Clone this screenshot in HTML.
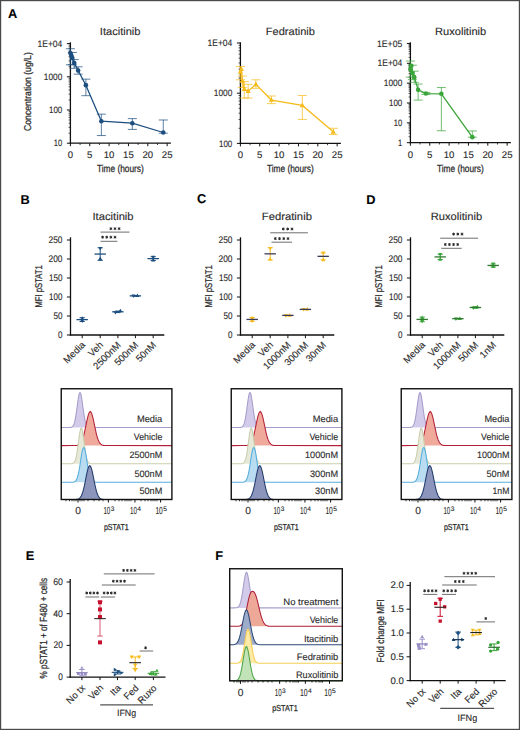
<!DOCTYPE html><html><head><meta charset="utf-8"><style>html,body{margin:0;padding:0;background:#fff;}svg{display:block;}</style></head><body><svg width="520" height="730" viewBox="0 0 520 730" font-family='"Liberation Sans", sans-serif' fill="#2b2b2b" text-rendering="geometricPrecision"><style>text{stroke:#2b2b2b;stroke-width:0.12px;}.c{stroke-width:0.25px;}</style>
<rect x="0" y="0" width="520" height="730" fill="#fff"/>
<text x="8.10" y="18.30" font-size="12.8" fill="#000" font-weight="bold">A</text>
<text x="20.40" y="203.60" font-size="12.8" fill="#000" font-weight="bold">B</text>
<text x="196.90" y="203.40" font-size="12.8" fill="#000" font-weight="bold">C</text>
<text x="366.30" y="203.60" font-size="12.8" fill="#000" font-weight="bold">D</text>
<text x="25.70" y="560.30" font-size="12.8" fill="#000" font-weight="bold">E</text>
<text x="215.20" y="559.70" font-size="12.8" fill="#000" font-weight="bold">F</text>
<line x1="70.40" y1="42.30" x2="70.40" y2="143.80" stroke="#111" stroke-width="1.3"/>
<line x1="69.80" y1="143.20" x2="170.90" y2="143.20" stroke="#111" stroke-width="1.3"/>
<line x1="70.40" y1="143.20" x2="70.40" y2="146.20" stroke="#111" stroke-width="1"/>
<text x="70.40" y="157.70" font-size="9.6" text-anchor="middle">0</text>
<line x1="89.75" y1="143.20" x2="89.75" y2="146.20" stroke="#111" stroke-width="1"/>
<text x="89.75" y="157.70" font-size="9.6" text-anchor="middle">5</text>
<line x1="109.10" y1="143.20" x2="109.10" y2="146.20" stroke="#111" stroke-width="1"/>
<text x="109.10" y="157.70" font-size="9.6" text-anchor="middle">10</text>
<line x1="128.45" y1="143.20" x2="128.45" y2="146.20" stroke="#111" stroke-width="1"/>
<text x="128.45" y="157.70" font-size="9.6" text-anchor="middle">15</text>
<line x1="147.80" y1="143.20" x2="147.80" y2="146.20" stroke="#111" stroke-width="1"/>
<text x="147.80" y="157.70" font-size="9.6" text-anchor="middle">20</text>
<line x1="167.15" y1="143.20" x2="167.15" y2="146.20" stroke="#111" stroke-width="1"/>
<text x="167.15" y="157.70" font-size="9.6" text-anchor="middle">25</text>
<line x1="80.08" y1="143.20" x2="80.08" y2="145.00" stroke="#111" stroke-width="0.8"/>
<line x1="99.43" y1="143.20" x2="99.43" y2="145.00" stroke="#111" stroke-width="0.8"/>
<line x1="118.78" y1="143.20" x2="118.78" y2="145.00" stroke="#111" stroke-width="0.8"/>
<line x1="138.12" y1="143.20" x2="138.12" y2="145.00" stroke="#111" stroke-width="0.8"/>
<line x1="157.48" y1="143.20" x2="157.48" y2="145.00" stroke="#111" stroke-width="0.8"/>
<line x1="66.90" y1="143.20" x2="70.40" y2="143.20" stroke="#111" stroke-width="1"/>
<line x1="68.60" y1="133.21" x2="70.40" y2="133.21" stroke="#111" stroke-width="0.7"/>
<line x1="68.60" y1="127.36" x2="70.40" y2="127.36" stroke="#111" stroke-width="0.7"/>
<line x1="68.60" y1="123.21" x2="70.40" y2="123.21" stroke="#111" stroke-width="0.7"/>
<line x1="68.60" y1="119.99" x2="70.40" y2="119.99" stroke="#111" stroke-width="0.7"/>
<line x1="68.60" y1="117.37" x2="70.40" y2="117.37" stroke="#111" stroke-width="0.7"/>
<line x1="68.60" y1="115.14" x2="70.40" y2="115.14" stroke="#111" stroke-width="0.7"/>
<line x1="68.60" y1="113.22" x2="70.40" y2="113.22" stroke="#111" stroke-width="0.7"/>
<line x1="68.60" y1="111.52" x2="70.40" y2="111.52" stroke="#111" stroke-width="0.7"/>
<line x1="66.90" y1="110.00" x2="70.40" y2="110.00" stroke="#111" stroke-width="1"/>
<line x1="68.60" y1="100.01" x2="70.40" y2="100.01" stroke="#111" stroke-width="0.7"/>
<line x1="68.60" y1="94.16" x2="70.40" y2="94.16" stroke="#111" stroke-width="0.7"/>
<line x1="68.60" y1="90.01" x2="70.40" y2="90.01" stroke="#111" stroke-width="0.7"/>
<line x1="68.60" y1="86.79" x2="70.40" y2="86.79" stroke="#111" stroke-width="0.7"/>
<line x1="68.60" y1="84.17" x2="70.40" y2="84.17" stroke="#111" stroke-width="0.7"/>
<line x1="68.60" y1="81.94" x2="70.40" y2="81.94" stroke="#111" stroke-width="0.7"/>
<line x1="68.60" y1="80.02" x2="70.40" y2="80.02" stroke="#111" stroke-width="0.7"/>
<line x1="68.60" y1="78.32" x2="70.40" y2="78.32" stroke="#111" stroke-width="0.7"/>
<line x1="66.90" y1="76.80" x2="70.40" y2="76.80" stroke="#111" stroke-width="1"/>
<line x1="68.60" y1="66.81" x2="70.40" y2="66.81" stroke="#111" stroke-width="0.7"/>
<line x1="68.60" y1="60.96" x2="70.40" y2="60.96" stroke="#111" stroke-width="0.7"/>
<line x1="68.60" y1="56.81" x2="70.40" y2="56.81" stroke="#111" stroke-width="0.7"/>
<line x1="68.60" y1="53.59" x2="70.40" y2="53.59" stroke="#111" stroke-width="0.7"/>
<line x1="68.60" y1="50.97" x2="70.40" y2="50.97" stroke="#111" stroke-width="0.7"/>
<line x1="68.60" y1="48.74" x2="70.40" y2="48.74" stroke="#111" stroke-width="0.7"/>
<line x1="68.60" y1="46.82" x2="70.40" y2="46.82" stroke="#111" stroke-width="0.7"/>
<line x1="68.60" y1="45.12" x2="70.40" y2="45.12" stroke="#111" stroke-width="0.7"/>
<line x1="66.90" y1="43.60" x2="70.40" y2="43.60" stroke="#111" stroke-width="1"/>
<text x="37.50" y="46.70" font-size="9.4" textLength="24.80" lengthAdjust="spacingAndGlyphs">1E+04</text>
<text x="43.80" y="79.90" font-size="9.4" textLength="18.50" lengthAdjust="spacingAndGlyphs">1000</text>
<text x="49.00" y="113.10" font-size="9.4" textLength="13.30" lengthAdjust="spacingAndGlyphs">100</text>
<text x="53.80" y="146.30" font-size="9.4" textLength="8.50" lengthAdjust="spacingAndGlyphs">10</text>
<text x="99.80" y="34.50" font-size="10.6" textLength="40.70" lengthAdjust="spacingAndGlyphs">Itacitinib</text>
<text x="96.90" y="172.20" font-size="10.2" class="c" textLength="46.90" lengthAdjust="spacingAndGlyphs">Time (hours)</text>
<path d="M65.90,48.74h9M70.40,48.74V64.79M65.90,64.79h9" stroke="#1c4f7f" stroke-width="0.9" fill="none" opacity="0.8"/>
<path d="M67.84,52.48h9M72.34,52.48V64.79M67.84,64.79h9" stroke="#1c4f7f" stroke-width="0.9" fill="none" opacity="0.8"/>
<path d="M69.77,59.59h9M74.27,59.59V68.32M69.77,68.32h9" stroke="#1c4f7f" stroke-width="0.9" fill="none" opacity="0.8"/>
<path d="M73.64,66.81h9M78.14,66.81V74.17M73.64,74.17h9" stroke="#1c4f7f" stroke-width="0.9" fill="none" opacity="0.8"/>
<path d="M81.38,79.14h9M85.88,79.14V95.68M81.38,95.68h9" stroke="#1c4f7f" stroke-width="0.9" fill="none" opacity="0.8"/>
<path d="M96.86,114.15h9M101.36,114.15V135.55M96.86,135.55h9" stroke="#1c4f7f" stroke-width="0.9" fill="none" opacity="0.8"/>
<path d="M127.82,118.62h9M132.32,118.62V129.42M127.82,129.42h9" stroke="#1c4f7f" stroke-width="0.9" fill="none" opacity="0.8"/>
<path d="M158.78,119.99h9M163.28,119.99V133.21M158.78,133.21h9" stroke="#1c4f7f" stroke-width="0.9" fill="none" opacity="0.8"/>
<polyline points="70.40,53.03 71.37,55.44 72.34,57.94 74.27,63.02 78.14,70.48 85.88,85.16 101.36,121.20 132.32,123.21 163.28,132.50" fill="none" stroke="#1c4f7f" stroke-width="1.3"/>
<circle cx="70.40" cy="53.03" r="2.3" fill="#1c4f7f"/>
<circle cx="71.37" cy="55.44" r="2.3" fill="#1c4f7f"/>
<circle cx="72.34" cy="57.94" r="2.3" fill="#1c4f7f"/>
<circle cx="74.27" cy="63.02" r="2.3" fill="#1c4f7f"/>
<circle cx="78.14" cy="70.48" r="2.3" fill="#1c4f7f"/>
<circle cx="85.88" cy="85.16" r="2.3" fill="#1c4f7f"/>
<circle cx="101.36" cy="121.20" r="2.3" fill="#1c4f7f"/>
<circle cx="132.32" cy="123.21" r="2.3" fill="#1c4f7f"/>
<circle cx="163.28" cy="132.50" r="2.3" fill="#1c4f7f"/>
<text x="30.60" y="91.60" font-size="9.9" class="c" text-anchor="middle" textLength="78.70" lengthAdjust="spacingAndGlyphs" transform="rotate(-90 30.60 91.60)">Concentration (ug/L)</text>
<line x1="240.40" y1="42.30" x2="240.40" y2="144.00" stroke="#111" stroke-width="1.3"/>
<line x1="239.80" y1="143.40" x2="340.90" y2="143.40" stroke="#111" stroke-width="1.3"/>
<line x1="240.40" y1="143.40" x2="240.40" y2="146.40" stroke="#111" stroke-width="1"/>
<text x="240.40" y="157.70" font-size="9.6" text-anchor="middle">0</text>
<line x1="259.75" y1="143.40" x2="259.75" y2="146.40" stroke="#111" stroke-width="1"/>
<text x="259.75" y="157.70" font-size="9.6" text-anchor="middle">5</text>
<line x1="279.10" y1="143.40" x2="279.10" y2="146.40" stroke="#111" stroke-width="1"/>
<text x="279.10" y="157.70" font-size="9.6" text-anchor="middle">10</text>
<line x1="298.45" y1="143.40" x2="298.45" y2="146.40" stroke="#111" stroke-width="1"/>
<text x="298.45" y="157.70" font-size="9.6" text-anchor="middle">15</text>
<line x1="317.80" y1="143.40" x2="317.80" y2="146.40" stroke="#111" stroke-width="1"/>
<text x="317.80" y="157.70" font-size="9.6" text-anchor="middle">20</text>
<line x1="337.15" y1="143.40" x2="337.15" y2="146.40" stroke="#111" stroke-width="1"/>
<text x="337.15" y="157.70" font-size="9.6" text-anchor="middle">25</text>
<line x1="250.08" y1="143.40" x2="250.08" y2="145.20" stroke="#111" stroke-width="0.8"/>
<line x1="269.43" y1="143.40" x2="269.43" y2="145.20" stroke="#111" stroke-width="0.8"/>
<line x1="288.77" y1="143.40" x2="288.77" y2="145.20" stroke="#111" stroke-width="0.8"/>
<line x1="308.12" y1="143.40" x2="308.12" y2="145.20" stroke="#111" stroke-width="0.8"/>
<line x1="327.48" y1="143.40" x2="327.48" y2="145.20" stroke="#111" stroke-width="0.8"/>
<line x1="236.90" y1="143.40" x2="240.40" y2="143.40" stroke="#111" stroke-width="1"/>
<line x1="238.60" y1="128.29" x2="240.40" y2="128.29" stroke="#111" stroke-width="0.7"/>
<line x1="238.60" y1="119.45" x2="240.40" y2="119.45" stroke="#111" stroke-width="0.7"/>
<line x1="238.60" y1="113.18" x2="240.40" y2="113.18" stroke="#111" stroke-width="0.7"/>
<line x1="238.60" y1="108.31" x2="240.40" y2="108.31" stroke="#111" stroke-width="0.7"/>
<line x1="238.60" y1="104.34" x2="240.40" y2="104.34" stroke="#111" stroke-width="0.7"/>
<line x1="238.60" y1="100.98" x2="240.40" y2="100.98" stroke="#111" stroke-width="0.7"/>
<line x1="238.60" y1="98.06" x2="240.40" y2="98.06" stroke="#111" stroke-width="0.7"/>
<line x1="238.60" y1="95.50" x2="240.40" y2="95.50" stroke="#111" stroke-width="0.7"/>
<line x1="236.90" y1="93.20" x2="240.40" y2="93.20" stroke="#111" stroke-width="1"/>
<line x1="238.60" y1="78.09" x2="240.40" y2="78.09" stroke="#111" stroke-width="0.7"/>
<line x1="238.60" y1="69.25" x2="240.40" y2="69.25" stroke="#111" stroke-width="0.7"/>
<line x1="238.60" y1="62.98" x2="240.40" y2="62.98" stroke="#111" stroke-width="0.7"/>
<line x1="238.60" y1="58.11" x2="240.40" y2="58.11" stroke="#111" stroke-width="0.7"/>
<line x1="238.60" y1="54.14" x2="240.40" y2="54.14" stroke="#111" stroke-width="0.7"/>
<line x1="238.60" y1="50.78" x2="240.40" y2="50.78" stroke="#111" stroke-width="0.7"/>
<line x1="238.60" y1="47.86" x2="240.40" y2="47.86" stroke="#111" stroke-width="0.7"/>
<line x1="238.60" y1="45.30" x2="240.40" y2="45.30" stroke="#111" stroke-width="0.7"/>
<line x1="236.90" y1="43.00" x2="240.40" y2="43.00" stroke="#111" stroke-width="1"/>
<text x="207.50" y="46.10" font-size="9.4" textLength="24.80" lengthAdjust="spacingAndGlyphs">1E+04</text>
<text x="213.80" y="96.30" font-size="9.4" textLength="18.50" lengthAdjust="spacingAndGlyphs">1000</text>
<text x="219.00" y="146.50" font-size="9.4" textLength="13.30" lengthAdjust="spacingAndGlyphs">100</text>
<text x="265.80" y="34.50" font-size="10.6" textLength="49.10" lengthAdjust="spacingAndGlyphs">Fedratinib</text>
<text x="266.90" y="172.20" font-size="10.2" class="c" textLength="46.90" lengthAdjust="spacingAndGlyphs">Time (hours)</text>
<path d="M235.90,66.52h9M240.40,66.52V79.79M235.90,79.79h9" stroke="#f5bb1c" stroke-width="0.9" fill="none" opacity="0.8"/>
<path d="M237.84,76.01h9M242.34,76.01V87.48M237.84,87.48h9" stroke="#f5bb1c" stroke-width="0.9" fill="none" opacity="0.8"/>
<path d="M239.77,81.63h9M244.27,81.63V98.06M239.77,98.06h9" stroke="#f5bb1c" stroke-width="0.9" fill="none" opacity="0.8"/>
<path d="M243.64,84.36h9M248.14,84.36V98.06M243.64,98.06h9" stroke="#f5bb1c" stroke-width="0.9" fill="none" opacity="0.8"/>
<path d="M251.38,79.79h9M255.88,79.79V88.34M251.38,88.34h9" stroke="#f5bb1c" stroke-width="0.9" fill="none" opacity="0.8"/>
<path d="M266.86,95.99h9M271.36,95.99V103.62M266.86,103.62h9" stroke="#f5bb1c" stroke-width="0.9" fill="none" opacity="0.8"/>
<path d="M297.82,95.50h9M302.32,95.50V119.45M297.82,119.45h9" stroke="#f5bb1c" stroke-width="0.9" fill="none" opacity="0.8"/>
<path d="M328.78,128.29h9M333.28,128.29V134.56M328.78,134.56h9" stroke="#f5bb1c" stroke-width="0.9" fill="none" opacity="0.8"/>
<polyline points="240.40,71.95 241.37,69.25 242.34,81.00 244.27,89.23 248.14,91.12 255.88,84.36 271.36,100.06 302.32,105.46 333.28,131.83" fill="none" stroke="#f5bb1c" stroke-width="1.3"/>
<path d="M240.40,69.05L243.00,73.75L237.80,73.75Z" fill="#f5bb1c"/>
<path d="M241.37,66.35L243.97,71.05L238.77,71.05Z" fill="#f5bb1c"/>
<path d="M242.34,78.10L244.94,82.80L239.74,82.80Z" fill="#f5bb1c"/>
<path d="M244.27,86.33L246.87,91.03L241.67,91.03Z" fill="#f5bb1c"/>
<path d="M248.14,88.22L250.74,92.92L245.54,92.92Z" fill="#f5bb1c"/>
<path d="M255.88,81.46L258.48,86.16L253.28,86.16Z" fill="#f5bb1c"/>
<path d="M271.36,97.16L273.96,101.86L268.76,101.86Z" fill="#f5bb1c"/>
<path d="M302.32,102.56L304.92,107.26L299.72,107.26Z" fill="#f5bb1c"/>
<path d="M333.28,128.93L335.88,133.63L330.68,133.63Z" fill="#f5bb1c"/>
<line x1="410.40" y1="42.30" x2="410.40" y2="143.30" stroke="#111" stroke-width="1.3"/>
<line x1="409.80" y1="142.70" x2="510.90" y2="142.70" stroke="#111" stroke-width="1.3"/>
<line x1="410.40" y1="142.70" x2="410.40" y2="145.70" stroke="#111" stroke-width="1"/>
<text x="410.40" y="157.70" font-size="9.6" text-anchor="middle">0</text>
<line x1="429.75" y1="142.70" x2="429.75" y2="145.70" stroke="#111" stroke-width="1"/>
<text x="429.75" y="157.70" font-size="9.6" text-anchor="middle">5</text>
<line x1="449.10" y1="142.70" x2="449.10" y2="145.70" stroke="#111" stroke-width="1"/>
<text x="449.10" y="157.70" font-size="9.6" text-anchor="middle">10</text>
<line x1="468.45" y1="142.70" x2="468.45" y2="145.70" stroke="#111" stroke-width="1"/>
<text x="468.45" y="157.70" font-size="9.6" text-anchor="middle">15</text>
<line x1="487.80" y1="142.70" x2="487.80" y2="145.70" stroke="#111" stroke-width="1"/>
<text x="487.80" y="157.70" font-size="9.6" text-anchor="middle">20</text>
<line x1="507.15" y1="142.70" x2="507.15" y2="145.70" stroke="#111" stroke-width="1"/>
<text x="507.15" y="157.70" font-size="9.6" text-anchor="middle">25</text>
<line x1="420.07" y1="142.70" x2="420.07" y2="144.50" stroke="#111" stroke-width="0.8"/>
<line x1="439.42" y1="142.70" x2="439.42" y2="144.50" stroke="#111" stroke-width="0.8"/>
<line x1="458.77" y1="142.70" x2="458.77" y2="144.50" stroke="#111" stroke-width="0.8"/>
<line x1="478.12" y1="142.70" x2="478.12" y2="144.50" stroke="#111" stroke-width="0.8"/>
<line x1="497.47" y1="142.70" x2="497.47" y2="144.50" stroke="#111" stroke-width="0.8"/>
<line x1="406.90" y1="142.70" x2="410.40" y2="142.70" stroke="#111" stroke-width="1"/>
<line x1="408.60" y1="136.72" x2="410.40" y2="136.72" stroke="#111" stroke-width="0.7"/>
<line x1="408.60" y1="133.23" x2="410.40" y2="133.23" stroke="#111" stroke-width="0.7"/>
<line x1="408.60" y1="130.75" x2="410.40" y2="130.75" stroke="#111" stroke-width="0.7"/>
<line x1="408.60" y1="128.83" x2="410.40" y2="128.83" stroke="#111" stroke-width="0.7"/>
<line x1="408.60" y1="127.25" x2="410.40" y2="127.25" stroke="#111" stroke-width="0.7"/>
<line x1="408.60" y1="125.92" x2="410.40" y2="125.92" stroke="#111" stroke-width="0.7"/>
<line x1="408.60" y1="124.77" x2="410.40" y2="124.77" stroke="#111" stroke-width="0.7"/>
<line x1="408.60" y1="123.76" x2="410.40" y2="123.76" stroke="#111" stroke-width="0.7"/>
<line x1="406.90" y1="122.85" x2="410.40" y2="122.85" stroke="#111" stroke-width="1"/>
<line x1="408.60" y1="116.87" x2="410.40" y2="116.87" stroke="#111" stroke-width="0.7"/>
<line x1="408.60" y1="113.38" x2="410.40" y2="113.38" stroke="#111" stroke-width="0.7"/>
<line x1="408.60" y1="110.90" x2="410.40" y2="110.90" stroke="#111" stroke-width="0.7"/>
<line x1="408.60" y1="108.98" x2="410.40" y2="108.98" stroke="#111" stroke-width="0.7"/>
<line x1="408.60" y1="107.40" x2="410.40" y2="107.40" stroke="#111" stroke-width="0.7"/>
<line x1="408.60" y1="106.07" x2="410.40" y2="106.07" stroke="#111" stroke-width="0.7"/>
<line x1="408.60" y1="104.92" x2="410.40" y2="104.92" stroke="#111" stroke-width="0.7"/>
<line x1="408.60" y1="103.91" x2="410.40" y2="103.91" stroke="#111" stroke-width="0.7"/>
<line x1="406.90" y1="103.00" x2="410.40" y2="103.00" stroke="#111" stroke-width="1"/>
<line x1="408.60" y1="97.02" x2="410.40" y2="97.02" stroke="#111" stroke-width="0.7"/>
<line x1="408.60" y1="93.53" x2="410.40" y2="93.53" stroke="#111" stroke-width="0.7"/>
<line x1="408.60" y1="91.05" x2="410.40" y2="91.05" stroke="#111" stroke-width="0.7"/>
<line x1="408.60" y1="89.13" x2="410.40" y2="89.13" stroke="#111" stroke-width="0.7"/>
<line x1="408.60" y1="87.55" x2="410.40" y2="87.55" stroke="#111" stroke-width="0.7"/>
<line x1="408.60" y1="86.22" x2="410.40" y2="86.22" stroke="#111" stroke-width="0.7"/>
<line x1="408.60" y1="85.07" x2="410.40" y2="85.07" stroke="#111" stroke-width="0.7"/>
<line x1="408.60" y1="84.06" x2="410.40" y2="84.06" stroke="#111" stroke-width="0.7"/>
<line x1="406.90" y1="83.15" x2="410.40" y2="83.15" stroke="#111" stroke-width="1"/>
<line x1="408.60" y1="77.17" x2="410.40" y2="77.17" stroke="#111" stroke-width="0.7"/>
<line x1="408.60" y1="73.68" x2="410.40" y2="73.68" stroke="#111" stroke-width="0.7"/>
<line x1="408.60" y1="71.20" x2="410.40" y2="71.20" stroke="#111" stroke-width="0.7"/>
<line x1="408.60" y1="69.28" x2="410.40" y2="69.28" stroke="#111" stroke-width="0.7"/>
<line x1="408.60" y1="67.70" x2="410.40" y2="67.70" stroke="#111" stroke-width="0.7"/>
<line x1="408.60" y1="66.37" x2="410.40" y2="66.37" stroke="#111" stroke-width="0.7"/>
<line x1="408.60" y1="65.22" x2="410.40" y2="65.22" stroke="#111" stroke-width="0.7"/>
<line x1="408.60" y1="64.21" x2="410.40" y2="64.21" stroke="#111" stroke-width="0.7"/>
<line x1="406.90" y1="63.30" x2="410.40" y2="63.30" stroke="#111" stroke-width="1"/>
<line x1="408.60" y1="57.32" x2="410.40" y2="57.32" stroke="#111" stroke-width="0.7"/>
<line x1="408.60" y1="53.83" x2="410.40" y2="53.83" stroke="#111" stroke-width="0.7"/>
<line x1="408.60" y1="51.35" x2="410.40" y2="51.35" stroke="#111" stroke-width="0.7"/>
<line x1="408.60" y1="49.43" x2="410.40" y2="49.43" stroke="#111" stroke-width="0.7"/>
<line x1="408.60" y1="47.85" x2="410.40" y2="47.85" stroke="#111" stroke-width="0.7"/>
<line x1="408.60" y1="46.52" x2="410.40" y2="46.52" stroke="#111" stroke-width="0.7"/>
<line x1="408.60" y1="45.37" x2="410.40" y2="45.37" stroke="#111" stroke-width="0.7"/>
<line x1="408.60" y1="44.36" x2="410.40" y2="44.36" stroke="#111" stroke-width="0.7"/>
<line x1="406.90" y1="43.45" x2="410.40" y2="43.45" stroke="#111" stroke-width="1"/>
<text x="377.00" y="46.55" font-size="9.4" textLength="25.30" lengthAdjust="spacingAndGlyphs">1E+05</text>
<text x="377.50" y="66.40" font-size="9.4" textLength="24.80" lengthAdjust="spacingAndGlyphs">1E+04</text>
<text x="383.80" y="86.25" font-size="9.4" textLength="18.50" lengthAdjust="spacingAndGlyphs">1000</text>
<text x="389.00" y="106.10" font-size="9.4" textLength="13.30" lengthAdjust="spacingAndGlyphs">100</text>
<text x="393.80" y="125.95" font-size="9.4" textLength="8.50" lengthAdjust="spacingAndGlyphs">10</text>
<text x="398.10" y="145.80" font-size="9.4" textLength="4.20" lengthAdjust="spacingAndGlyphs">1</text>
<text x="435.10" y="34.50" font-size="10.6" textLength="51.10" lengthAdjust="spacingAndGlyphs">Ruxolitinib</text>
<text x="436.90" y="172.20" font-size="10.2" class="c" textLength="46.90" lengthAdjust="spacingAndGlyphs">Time (hours)</text>
<path d="M405.90,61.04h9M410.40,61.04V77.17M405.90,77.17h9" stroke="#3aa53a" stroke-width="0.9" fill="none" opacity="0.8"/>
<path d="M407.83,65.22h9M412.33,65.22V79.65M407.83,79.65h9" stroke="#3aa53a" stroke-width="0.9" fill="none" opacity="0.8"/>
<path d="M409.77,71.20h9M414.27,71.20V82.33M409.77,82.33h9" stroke="#3aa53a" stroke-width="0.9" fill="none" opacity="0.8"/>
<path d="M413.64,84.06h9M418.14,84.06V100.10M413.64,100.10h9" stroke="#3aa53a" stroke-width="0.9" fill="none" opacity="0.8"/>
<path d="M421.38,92.45h9M425.88,92.45V94.44M421.38,94.44h9" stroke="#3aa53a" stroke-width="0.9" fill="none" opacity="0.8"/>
<path d="M436.86,87.55h9M441.36,87.55V130.75M436.86,130.75h9" stroke="#3aa53a" stroke-width="0.9" fill="none" opacity="0.8"/>
<path d="M467.82,130.97h9M472.32,130.97V137.17M467.82,137.17h9" stroke="#3aa53a" stroke-width="0.9" fill="none" opacity="0.8"/>
<polyline points="410.40,69.28 411.37,65.78 412.33,73.12 414.27,77.17 418.14,89.84 425.88,93.53 441.36,93.82 472.32,137.17" fill="none" stroke="#3aa53a" stroke-width="1.3"/>
<circle cx="410.40" cy="69.28" r="2.3" fill="#3aa53a"/>
<circle cx="411.37" cy="65.78" r="2.3" fill="#3aa53a"/>
<circle cx="412.33" cy="73.12" r="2.3" fill="#3aa53a"/>
<circle cx="414.27" cy="77.17" r="2.3" fill="#3aa53a"/>
<circle cx="418.14" cy="89.84" r="2.3" fill="#3aa53a"/>
<circle cx="425.88" cy="93.53" r="2.3" fill="#3aa53a"/>
<circle cx="441.36" cy="93.82" r="2.3" fill="#3aa53a"/>
<circle cx="472.32" cy="137.17" r="2.3" fill="#3aa53a"/>
<line x1="70.50" y1="237.30" x2="70.50" y2="335.60" stroke="#111" stroke-width="1.3"/>
<line x1="69.90" y1="335.00" x2="164.30" y2="335.00" stroke="#111" stroke-width="1.3"/>
<line x1="66.90" y1="335.00" x2="70.50" y2="335.00" stroke="#111" stroke-width="1"/>
<line x1="66.90" y1="316.00" x2="70.50" y2="316.00" stroke="#111" stroke-width="1"/>
<line x1="66.90" y1="297.00" x2="70.50" y2="297.00" stroke="#111" stroke-width="1"/>
<line x1="66.90" y1="278.00" x2="70.50" y2="278.00" stroke="#111" stroke-width="1"/>
<line x1="66.90" y1="259.00" x2="70.50" y2="259.00" stroke="#111" stroke-width="1"/>
<line x1="66.90" y1="240.00" x2="70.50" y2="240.00" stroke="#111" stroke-width="1"/>
<text x="48.50" y="243.00" font-size="9.6" textLength="13.90" lengthAdjust="spacingAndGlyphs">250</text>
<text x="48.50" y="262.00" font-size="9.6" textLength="13.90" lengthAdjust="spacingAndGlyphs">200</text>
<text x="48.90" y="281.00" font-size="9.6" textLength="13.50" lengthAdjust="spacingAndGlyphs">150</text>
<text x="49.10" y="300.00" font-size="9.6" textLength="13.30" lengthAdjust="spacingAndGlyphs">100</text>
<text x="53.40" y="319.00" font-size="9.6" textLength="9.00" lengthAdjust="spacingAndGlyphs">50</text>
<text x="57.90" y="338.00" font-size="9.6" textLength="4.50" lengthAdjust="spacingAndGlyphs">0</text>
<line x1="82.20" y1="335.00" x2="82.20" y2="338.20" stroke="#111" stroke-width="1"/>
<line x1="100.20" y1="335.00" x2="100.20" y2="338.20" stroke="#111" stroke-width="1"/>
<line x1="117.90" y1="335.00" x2="117.90" y2="338.20" stroke="#111" stroke-width="1"/>
<line x1="135.40" y1="335.00" x2="135.40" y2="338.20" stroke="#111" stroke-width="1"/>
<line x1="153.20" y1="335.00" x2="153.20" y2="338.20" stroke="#111" stroke-width="1"/>
<text x="85.70" y="345.50" font-size="9.6" text-anchor="end" transform="rotate(-45 85.70 345.50)">Media</text>
<text x="103.70" y="345.50" font-size="9.6" text-anchor="end" transform="rotate(-45 103.70 345.50)">Veh</text>
<text x="121.40" y="345.50" font-size="9.6" text-anchor="end" transform="rotate(-45 121.40 345.50)">2500nM</text>
<text x="138.90" y="345.50" font-size="9.6" text-anchor="end" transform="rotate(-45 138.90 345.50)">500nM</text>
<text x="156.70" y="345.50" font-size="9.6" text-anchor="end" transform="rotate(-45 156.70 345.50)">50nM</text>
<text x="92.50" y="219.50" font-size="10.6" textLength="41.10" lengthAdjust="spacingAndGlyphs">Itacitinib</text>
<text x="42.30" y="286.40" font-size="9.8" class="c" text-anchor="middle" textLength="42.20" lengthAdjust="spacingAndGlyphs" transform="rotate(-90 42.30 286.40)">MFI pSTAT1</text>
<path d="M82.20,317.71V321.51M79.60,317.71h5.20M79.60,321.51h5.20" stroke="#1c4f7f" stroke-width="1.0" fill="none"/>
<path d="M82.20,316.24L84.16,319.72L80.25,319.72Z" fill="#1c4f7f"/>
<path d="M82.20,322.98L84.16,319.50L80.25,319.50Z" fill="#1c4f7f"/>
<line x1="76.50" y1="319.61" x2="87.90" y2="319.61" stroke="#1c4f7f" stroke-width="1.3"/>
<path d="M100.20,247.79V260.33M97.60,247.79h5.20M97.60,260.33h5.20" stroke="#1c4f7f" stroke-width="1.0" fill="none"/>
<path d="M100.20,250.40L102.16,246.92L98.25,246.92Z" fill="#1c4f7f"/>
<path d="M100.20,256.58L102.16,260.06L98.25,260.06Z" fill="#1c4f7f"/>
<line x1="94.50" y1="254.06" x2="105.90" y2="254.06" stroke="#1c4f7f" stroke-width="1.3"/>
<path d="M117.90,311.06V312.58M115.30,311.06h5.20M115.30,312.58h5.20" stroke="#1c4f7f" stroke-width="1.0" fill="none"/>
<path d="M120.40,308.64L122.36,312.12L118.45,312.12Z" fill="#1c4f7f"/>
<path d="M115.40,314.62L117.36,311.13L113.45,311.13Z" fill="#1c4f7f"/>
<line x1="112.20" y1="311.82" x2="123.60" y2="311.82" stroke="#1c4f7f" stroke-width="1.3"/>
<path d="M135.40,295.48V296.24M132.80,295.48h5.20M132.80,296.24h5.20" stroke="#1c4f7f" stroke-width="1.0" fill="none"/>
<path d="M137.40,293.44L139.36,296.93L135.44,296.93Z" fill="#1c4f7f"/>
<path d="M133.40,297.90L135.36,294.42L131.44,294.42Z" fill="#1c4f7f"/>
<line x1="129.70" y1="295.86" x2="141.10" y2="295.86" stroke="#1c4f7f" stroke-width="1.3"/>
<path d="M153.20,256.72V260.52M150.60,256.72h5.20M150.60,260.52h5.20" stroke="#1c4f7f" stroke-width="1.0" fill="none"/>
<path d="M153.20,259.14L155.16,255.66L151.24,255.66Z" fill="#1c4f7f"/>
<path d="M153.20,258.10L155.16,261.58L151.24,261.58Z" fill="#1c4f7f"/>
<line x1="147.50" y1="258.62" x2="158.90" y2="258.62" stroke="#1c4f7f" stroke-width="1.3"/>
<line x1="100.50" y1="232.10" x2="129.50" y2="232.10" stroke="#6e6e6e" stroke-width="1.0"/>
<path d="M110.90,227.25L110.90,230.15M109.64,227.97L112.16,229.42M109.64,229.42L112.16,227.97" stroke="#2a2a2a" stroke-width="1.0" fill="none"/>
<path d="M115.00,227.25L115.00,230.15M113.74,227.97L116.26,229.42M113.74,229.42L116.26,227.97" stroke="#2a2a2a" stroke-width="1.0" fill="none"/>
<path d="M119.10,227.25L119.10,230.15M117.84,227.97L120.36,229.42M117.84,229.42L120.36,227.97" stroke="#2a2a2a" stroke-width="1.0" fill="none"/>
<line x1="100.50" y1="241.30" x2="117.40" y2="241.30" stroke="#6e6e6e" stroke-width="1.0"/>
<path d="M102.60,235.75L102.60,238.65M101.34,236.47L103.86,237.92M101.34,237.92L103.86,236.47" stroke="#2a2a2a" stroke-width="1.0" fill="none"/>
<path d="M106.73,235.75L106.73,238.65M105.48,236.47L107.99,237.92M105.48,237.92L107.99,236.47" stroke="#2a2a2a" stroke-width="1.0" fill="none"/>
<path d="M110.87,235.75L110.87,238.65M109.61,236.47L112.12,237.92M109.61,237.92L112.12,236.47" stroke="#2a2a2a" stroke-width="1.0" fill="none"/>
<path d="M115.00,235.75L115.00,238.65M113.74,236.47L116.26,237.92M113.74,237.92L116.26,236.47" stroke="#2a2a2a" stroke-width="1.0" fill="none"/>
<line x1="240.50" y1="237.30" x2="240.50" y2="335.60" stroke="#111" stroke-width="1.3"/>
<line x1="239.90" y1="335.00" x2="334.30" y2="335.00" stroke="#111" stroke-width="1.3"/>
<line x1="236.90" y1="335.00" x2="240.50" y2="335.00" stroke="#111" stroke-width="1"/>
<line x1="236.90" y1="316.00" x2="240.50" y2="316.00" stroke="#111" stroke-width="1"/>
<line x1="236.90" y1="297.00" x2="240.50" y2="297.00" stroke="#111" stroke-width="1"/>
<line x1="236.90" y1="278.00" x2="240.50" y2="278.00" stroke="#111" stroke-width="1"/>
<line x1="236.90" y1="259.00" x2="240.50" y2="259.00" stroke="#111" stroke-width="1"/>
<line x1="236.90" y1="240.00" x2="240.50" y2="240.00" stroke="#111" stroke-width="1"/>
<text x="218.50" y="243.00" font-size="9.6" textLength="13.90" lengthAdjust="spacingAndGlyphs">250</text>
<text x="218.50" y="262.00" font-size="9.6" textLength="13.90" lengthAdjust="spacingAndGlyphs">200</text>
<text x="218.90" y="281.00" font-size="9.6" textLength="13.50" lengthAdjust="spacingAndGlyphs">150</text>
<text x="219.10" y="300.00" font-size="9.6" textLength="13.30" lengthAdjust="spacingAndGlyphs">100</text>
<text x="223.40" y="319.00" font-size="9.6" textLength="9.00" lengthAdjust="spacingAndGlyphs">50</text>
<text x="227.90" y="338.00" font-size="9.6" textLength="4.50" lengthAdjust="spacingAndGlyphs">0</text>
<line x1="252.20" y1="335.00" x2="252.20" y2="338.20" stroke="#111" stroke-width="1"/>
<line x1="270.20" y1="335.00" x2="270.20" y2="338.20" stroke="#111" stroke-width="1"/>
<line x1="287.90" y1="335.00" x2="287.90" y2="338.20" stroke="#111" stroke-width="1"/>
<line x1="305.40" y1="335.00" x2="305.40" y2="338.20" stroke="#111" stroke-width="1"/>
<line x1="323.20" y1="335.00" x2="323.20" y2="338.20" stroke="#111" stroke-width="1"/>
<text x="255.70" y="345.50" font-size="9.6" text-anchor="end" transform="rotate(-45 255.70 345.50)">Media</text>
<text x="273.70" y="345.50" font-size="9.6" text-anchor="end" transform="rotate(-45 273.70 345.50)">Veh</text>
<text x="291.40" y="345.50" font-size="9.6" text-anchor="end" transform="rotate(-45 291.40 345.50)">1000nM</text>
<text x="308.90" y="345.50" font-size="9.6" text-anchor="end" transform="rotate(-45 308.90 345.50)">300nM</text>
<text x="326.70" y="345.50" font-size="9.6" text-anchor="end" transform="rotate(-45 326.70 345.50)">30nM</text>
<text x="261.80" y="219.50" font-size="10.6" textLength="50.10" lengthAdjust="spacingAndGlyphs">Fedratinib</text>
<text x="212.30" y="286.40" font-size="9.8" class="c" text-anchor="middle" textLength="42.20" lengthAdjust="spacingAndGlyphs" transform="rotate(-90 212.30 286.40)">MFI pSTAT1</text>
<path d="M252.20,317.52V321.32M249.60,317.52h5.20M249.60,321.32h5.20" stroke="#f5bb1c" stroke-width="1.0" fill="none"/>
<path d="M252.20,315.86L254.16,319.34L250.24,319.34Z" fill="#f5bb1c"/>
<path d="M252.20,322.98L254.16,319.50L250.24,319.50Z" fill="#f5bb1c"/>
<line x1="246.50" y1="319.42" x2="257.90" y2="319.42" stroke="#3b3b5a" stroke-width="1.3"/>
<path d="M270.20,247.75V259.91M267.60,247.75h5.20M267.60,259.91h5.20" stroke="#f5bb1c" stroke-width="1.0" fill="none"/>
<path d="M270.20,250.40L272.15,246.92L268.25,246.92Z" fill="#f5bb1c"/>
<path d="M270.20,256.96L272.15,260.44L268.25,260.44Z" fill="#f5bb1c"/>
<line x1="264.50" y1="253.83" x2="275.90" y2="253.83" stroke="#3b3b5a" stroke-width="1.3"/>
<path d="M287.90,315.01V315.77M285.30,315.01h5.20M285.30,315.77h5.20" stroke="#f5bb1c" stroke-width="1.0" fill="none"/>
<path d="M289.90,313.20L291.85,316.69L287.94,316.69Z" fill="#f5bb1c"/>
<path d="M285.90,317.66L287.85,314.18L283.94,314.18Z" fill="#f5bb1c"/>
<line x1="282.20" y1="315.39" x2="293.60" y2="315.39" stroke="#3b3b5a" stroke-width="1.3"/>
<path d="M305.40,309.01V309.77M302.80,309.01h5.20M302.80,309.77h5.20" stroke="#f5bb1c" stroke-width="1.0" fill="none"/>
<path d="M307.40,307.12L309.35,310.61L305.44,310.61Z" fill="#f5bb1c"/>
<path d="M303.40,311.58L305.35,308.10L301.44,308.10Z" fill="#f5bb1c"/>
<line x1="299.70" y1="309.39" x2="311.10" y2="309.39" stroke="#3b3b5a" stroke-width="1.3"/>
<path d="M323.20,252.92V259.76M320.60,252.92h5.20M320.60,259.76h5.20" stroke="#f5bb1c" stroke-width="1.0" fill="none"/>
<path d="M323.20,254.96L325.15,251.48L321.25,251.48Z" fill="#f5bb1c"/>
<path d="M323.20,257.72L325.15,261.20L321.25,261.20Z" fill="#f5bb1c"/>
<line x1="317.50" y1="256.34" x2="328.90" y2="256.34" stroke="#3b3b5a" stroke-width="1.3"/>
<line x1="270.20" y1="232.80" x2="307.90" y2="232.80" stroke="#6e6e6e" stroke-width="1.0"/>
<path d="M283.30,227.55L283.30,230.45M282.04,228.28L284.56,229.72M282.04,229.72L284.56,228.28" stroke="#2a2a2a" stroke-width="1.0" fill="none"/>
<path d="M287.65,227.55L287.65,230.45M286.39,228.28L288.91,229.72M286.39,229.72L288.91,228.28" stroke="#2a2a2a" stroke-width="1.0" fill="none"/>
<path d="M292.00,227.55L292.00,230.45M290.74,228.28L293.26,229.72M290.74,229.72L293.26,228.28" stroke="#2a2a2a" stroke-width="1.0" fill="none"/>
<line x1="271.50" y1="242.20" x2="292.00" y2="242.20" stroke="#6e6e6e" stroke-width="1.0"/>
<path d="M275.30,237.15L275.30,240.05M274.04,237.88L276.56,239.32M274.04,239.32L276.56,237.88" stroke="#2a2a2a" stroke-width="1.0" fill="none"/>
<path d="M279.53,237.15L279.53,240.05M278.28,237.88L280.79,239.32M278.28,239.32L280.79,237.88" stroke="#2a2a2a" stroke-width="1.0" fill="none"/>
<path d="M283.77,237.15L283.77,240.05M282.51,237.88L285.02,239.32M282.51,239.32L285.02,237.88" stroke="#2a2a2a" stroke-width="1.0" fill="none"/>
<path d="M288.00,237.15L288.00,240.05M286.74,237.88L289.26,239.32M286.74,239.32L289.26,237.88" stroke="#2a2a2a" stroke-width="1.0" fill="none"/>
<line x1="410.50" y1="237.30" x2="410.50" y2="335.60" stroke="#111" stroke-width="1.3"/>
<line x1="409.90" y1="335.00" x2="504.30" y2="335.00" stroke="#111" stroke-width="1.3"/>
<line x1="406.90" y1="335.00" x2="410.50" y2="335.00" stroke="#111" stroke-width="1"/>
<line x1="406.90" y1="316.00" x2="410.50" y2="316.00" stroke="#111" stroke-width="1"/>
<line x1="406.90" y1="297.00" x2="410.50" y2="297.00" stroke="#111" stroke-width="1"/>
<line x1="406.90" y1="278.00" x2="410.50" y2="278.00" stroke="#111" stroke-width="1"/>
<line x1="406.90" y1="259.00" x2="410.50" y2="259.00" stroke="#111" stroke-width="1"/>
<line x1="406.90" y1="240.00" x2="410.50" y2="240.00" stroke="#111" stroke-width="1"/>
<text x="388.50" y="243.00" font-size="9.6" textLength="13.90" lengthAdjust="spacingAndGlyphs">250</text>
<text x="388.50" y="262.00" font-size="9.6" textLength="13.90" lengthAdjust="spacingAndGlyphs">200</text>
<text x="388.90" y="281.00" font-size="9.6" textLength="13.50" lengthAdjust="spacingAndGlyphs">150</text>
<text x="389.10" y="300.00" font-size="9.6" textLength="13.30" lengthAdjust="spacingAndGlyphs">100</text>
<text x="393.40" y="319.00" font-size="9.6" textLength="9.00" lengthAdjust="spacingAndGlyphs">50</text>
<text x="397.90" y="338.00" font-size="9.6" textLength="4.50" lengthAdjust="spacingAndGlyphs">0</text>
<line x1="422.20" y1="335.00" x2="422.20" y2="338.20" stroke="#111" stroke-width="1"/>
<line x1="440.20" y1="335.00" x2="440.20" y2="338.20" stroke="#111" stroke-width="1"/>
<line x1="457.90" y1="335.00" x2="457.90" y2="338.20" stroke="#111" stroke-width="1"/>
<line x1="475.40" y1="335.00" x2="475.40" y2="338.20" stroke="#111" stroke-width="1"/>
<line x1="493.20" y1="335.00" x2="493.20" y2="338.20" stroke="#111" stroke-width="1"/>
<text x="425.70" y="345.50" font-size="9.6" text-anchor="end" transform="rotate(-45 425.70 345.50)">Media</text>
<text x="443.70" y="345.50" font-size="9.6" text-anchor="end" transform="rotate(-45 443.70 345.50)">Veh</text>
<text x="461.40" y="345.50" font-size="9.6" text-anchor="end" transform="rotate(-45 461.40 345.50)">1000nM</text>
<text x="478.90" y="345.50" font-size="9.6" text-anchor="end" transform="rotate(-45 478.90 345.50)">50nM</text>
<text x="496.70" y="345.50" font-size="9.6" text-anchor="end" transform="rotate(-45 496.70 345.50)">1nM</text>
<text x="430.80" y="219.50" font-size="10.6" textLength="51.40" lengthAdjust="spacingAndGlyphs">Ruxolitinib</text>
<text x="382.30" y="286.40" font-size="9.8" class="c" text-anchor="middle" textLength="42.20" lengthAdjust="spacingAndGlyphs" transform="rotate(-90 382.30 286.40)">MFI pSTAT1</text>
<path d="M422.20,317.14V321.70M419.60,317.14h5.20M419.60,321.70h5.20" stroke="#3aa53a" stroke-width="1.0" fill="none"/>
<path d="M422.20,315.48L424.15,318.96L420.25,318.96Z" fill="#3aa53a"/>
<path d="M422.20,323.36L424.15,319.88L420.25,319.88Z" fill="#3aa53a"/>
<line x1="416.50" y1="319.42" x2="427.90" y2="319.42" stroke="#2f7a30" stroke-width="1.3"/>
<path d="M440.20,254.25V259.57M437.60,254.25h5.20M437.60,259.57h5.20" stroke="#3aa53a" stroke-width="1.0" fill="none"/>
<path d="M440.20,256.48L442.15,253.00L438.25,253.00Z" fill="#3aa53a"/>
<path d="M440.20,257.34L442.15,260.82L438.25,260.82Z" fill="#3aa53a"/>
<line x1="434.50" y1="256.91" x2="445.90" y2="256.91" stroke="#2f7a30" stroke-width="1.3"/>
<path d="M457.90,318.28V319.04M455.30,318.28h5.20M455.30,319.04h5.20" stroke="#3aa53a" stroke-width="1.0" fill="none"/>
<path d="M459.90,316.43L461.85,319.92L457.94,319.92Z" fill="#3aa53a"/>
<path d="M455.90,320.89L457.85,317.41L453.94,317.41Z" fill="#3aa53a"/>
<line x1="452.20" y1="318.66" x2="463.60" y2="318.66" stroke="#2f7a30" stroke-width="1.3"/>
<path d="M475.40,306.73V308.25M472.80,306.73h5.20M472.80,308.25h5.20" stroke="#3aa53a" stroke-width="1.0" fill="none"/>
<path d="M477.40,304.84L479.35,308.32L475.44,308.32Z" fill="#3aa53a"/>
<path d="M473.40,310.06L475.35,306.57L471.44,306.57Z" fill="#3aa53a"/>
<line x1="469.70" y1="307.49" x2="481.10" y2="307.49" stroke="#2f7a30" stroke-width="1.3"/>
<path d="M493.20,263.94V266.98M490.60,263.94h5.20M490.60,266.98h5.20" stroke="#3aa53a" stroke-width="1.0" fill="none"/>
<path d="M493.20,265.98L495.15,262.50L491.25,262.50Z" fill="#3aa53a"/>
<path d="M493.20,264.56L495.15,268.05L491.25,268.05Z" fill="#3aa53a"/>
<line x1="487.50" y1="265.46" x2="498.90" y2="265.46" stroke="#2f7a30" stroke-width="1.3"/>
<line x1="440.20" y1="238.20" x2="478.10" y2="238.20" stroke="#6e6e6e" stroke-width="1.0"/>
<path d="M453.60,232.65L453.60,235.55M452.34,233.38L454.86,234.82M452.34,234.82L454.86,233.38" stroke="#2a2a2a" stroke-width="1.0" fill="none"/>
<path d="M457.80,232.65L457.80,235.55M456.54,233.38L459.06,234.82M456.54,234.82L459.06,233.38" stroke="#2a2a2a" stroke-width="1.0" fill="none"/>
<path d="M462.00,232.65L462.00,235.55M460.74,233.38L463.26,234.82M460.74,234.82L463.26,233.38" stroke="#2a2a2a" stroke-width="1.0" fill="none"/>
<line x1="441.30" y1="248.30" x2="461.70" y2="248.30" stroke="#6e6e6e" stroke-width="1.0"/>
<path d="M445.30,243.05L445.30,245.95M444.04,243.78L446.56,245.22M444.04,245.22L446.56,243.78" stroke="#2a2a2a" stroke-width="1.0" fill="none"/>
<path d="M449.43,243.05L449.43,245.95M448.18,243.78L450.69,245.22M448.18,245.22L450.69,243.78" stroke="#2a2a2a" stroke-width="1.0" fill="none"/>
<path d="M453.57,243.05L453.57,245.95M452.31,243.78L454.82,245.22M452.31,245.22L454.82,243.78" stroke="#2a2a2a" stroke-width="1.0" fill="none"/>
<path d="M457.70,243.05L457.70,245.95M456.44,243.78L458.96,245.22M456.44,245.22L458.96,243.78" stroke="#2a2a2a" stroke-width="1.0" fill="none"/>
<path d="M68.24,427.49 L68.83,427.49 L69.42,427.47 L70.00,427.44 L70.59,427.38 L71.18,427.25 L71.77,427.04 L72.36,426.66 L72.94,426.04 L73.53,425.07 L74.12,423.64 L74.71,421.63 L75.30,418.97 L75.88,415.62 L76.47,411.68 L77.06,407.33 L77.65,402.90 L78.24,398.80 L78.82,395.45 L79.41,393.26 L80.00,392.50 L80.59,393.26 L81.18,395.45 L81.76,398.80 L82.35,402.90 L82.94,407.33 L83.53,411.68 L84.12,415.62 L84.70,418.97 L85.29,421.63 L85.88,423.64 L86.47,425.07 L87.06,426.04 L87.64,426.66 L88.23,427.04 L88.82,427.25 L89.41,427.38 L90.00,427.44 L90.58,427.47 L91.17,427.49 L91.76,427.49 Z" fill="#d2cbe9" stroke="none"/>
<path d="M61.25,427.50 L68.24,427.49 L68.83,427.49 L69.42,427.47 L70.00,427.44 L70.59,427.38 L71.18,427.25 L71.77,427.04 L72.36,426.66 L72.94,426.04 L73.53,425.07 L74.12,423.64 L74.71,421.63 L75.30,418.97 L75.88,415.62 L76.47,411.68 L77.06,407.33 L77.65,402.90 L78.24,398.80 L78.82,395.45 L79.41,393.26 L80.00,392.50 L80.59,393.26 L81.18,395.45 L81.76,398.80 L82.35,402.90 L82.94,407.33 L83.53,411.68 L84.12,415.62 L84.70,418.97 L85.29,421.63 L85.88,423.64 L86.47,425.07 L87.06,426.04 L87.64,426.66 L88.23,427.04 L88.82,427.25 L89.41,427.38 L90.00,427.44 L90.58,427.47 L91.17,427.49 L91.76,427.49 L171.90,427.50" fill="none" stroke="#a69dcc" stroke-width="1.05"/>
<path d="M72.61,445.59 L73.49,445.59 L74.37,445.57 L75.26,445.54 L76.14,445.48 L77.02,445.36 L77.90,445.15 L78.78,444.78 L79.67,444.18 L80.55,443.23 L81.43,441.84 L82.31,439.88 L83.19,437.28 L84.08,434.03 L84.96,430.18 L85.84,425.95 L86.72,421.64 L87.60,417.64 L88.49,414.38 L89.37,412.24 L90.25,411.50 L91.13,412.24 L92.01,414.38 L92.90,417.64 L93.78,421.64 L94.66,425.95 L95.54,430.18 L96.42,434.03 L97.31,437.28 L98.19,439.88 L99.07,441.84 L99.95,443.23 L100.83,444.18 L101.72,444.78 L102.60,445.15 L103.48,445.36 L104.36,445.48 L105.24,445.54 L106.13,445.57 L107.01,445.59 L107.89,445.59 Z" fill="#efaa9c" stroke="none"/>
<path d="M61.25,445.60 L72.61,445.59 L73.49,445.59 L74.37,445.57 L75.26,445.54 L76.14,445.48 L77.02,445.36 L77.90,445.15 L78.78,444.78 L79.67,444.18 L80.55,443.23 L81.43,441.84 L82.31,439.88 L83.19,437.28 L84.08,434.03 L84.96,430.18 L85.84,425.95 L86.72,421.64 L87.60,417.64 L88.49,414.38 L89.37,412.24 L90.25,411.50 L91.13,412.24 L92.01,414.38 L92.90,417.64 L93.78,421.64 L94.66,425.95 L95.54,430.18 L96.42,434.03 L97.31,437.28 L98.19,439.88 L99.07,441.84 L99.95,443.23 L100.83,444.18 L101.72,444.78 L102.60,445.15 L103.48,445.36 L104.36,445.48 L105.24,445.54 L106.13,445.57 L107.01,445.59 L107.89,445.59 L171.90,445.60" fill="none" stroke="#b52039" stroke-width="1.05"/>
<path d="M69.49,463.79 L70.08,463.79 L70.67,463.77 L71.25,463.74 L71.84,463.67 L72.43,463.55 L73.02,463.32 L73.61,462.94 L74.19,462.30 L74.78,461.32 L75.37,459.85 L75.96,457.80 L76.55,455.07 L77.13,451.65 L77.72,447.61 L78.31,443.17 L78.90,438.64 L79.49,434.44 L80.07,431.02 L80.66,428.78 L81.25,428.00 L81.84,428.78 L82.43,431.02 L83.01,434.44 L83.60,438.64 L84.19,443.17 L84.78,447.61 L85.37,451.65 L85.95,455.07 L86.54,457.80 L87.13,459.85 L87.72,461.32 L88.31,462.30 L88.89,462.94 L89.48,463.32 L90.07,463.55 L90.66,463.67 L91.25,463.74 L91.83,463.77 L92.42,463.79 L93.01,463.79 Z" fill="#e7e9d8" stroke="none"/>
<path d="M61.25,463.80 L69.49,463.79 L70.08,463.79 L70.67,463.77 L71.25,463.74 L71.84,463.67 L72.43,463.55 L73.02,463.32 L73.61,462.94 L74.19,462.30 L74.78,461.32 L75.37,459.85 L75.96,457.80 L76.55,455.07 L77.13,451.65 L77.72,447.61 L78.31,443.17 L78.90,438.64 L79.49,434.44 L80.07,431.02 L80.66,428.78 L81.25,428.00 L81.84,428.78 L82.43,431.02 L83.01,434.44 L83.60,438.64 L84.19,443.17 L84.78,447.61 L85.37,451.65 L85.95,455.07 L86.54,457.80 L87.13,459.85 L87.72,461.32 L88.31,462.30 L88.89,462.94 L89.48,463.32 L90.07,463.55 L90.66,463.67 L91.25,463.74 L91.83,463.77 L92.42,463.79 L93.01,463.79 L171.90,463.80" fill="none" stroke="#c9ceac" stroke-width="1.05"/>
<path d="M70.31,482.29 L70.98,482.29 L71.65,482.27 L72.33,482.24 L73.00,482.18 L73.67,482.06 L74.34,481.84 L75.01,481.46 L75.69,480.85 L76.36,479.89 L77.03,478.46 L77.70,476.47 L78.37,473.81 L79.05,470.49 L79.72,466.57 L80.39,462.25 L81.06,457.85 L81.73,453.76 L82.41,450.44 L83.08,448.26 L83.75,447.50 L84.42,448.26 L85.09,450.44 L85.77,453.76 L86.44,457.85 L87.11,462.25 L87.78,466.57 L88.45,470.49 L89.13,473.81 L89.80,476.47 L90.47,478.46 L91.14,479.89 L91.81,480.85 L92.49,481.46 L93.16,481.84 L93.83,482.06 L94.50,482.18 L95.17,482.24 L95.85,482.27 L96.52,482.29 L97.19,482.29 Z" fill="#b9dcf1" stroke="none"/>
<path d="M61.25,482.30 L70.31,482.29 L70.98,482.29 L71.65,482.27 L72.33,482.24 L73.00,482.18 L73.67,482.06 L74.34,481.84 L75.01,481.46 L75.69,480.85 L76.36,479.89 L77.03,478.46 L77.70,476.47 L78.37,473.81 L79.05,470.49 L79.72,466.57 L80.39,462.25 L81.06,457.85 L81.73,453.76 L82.41,450.44 L83.08,448.26 L83.75,447.50 L84.42,448.26 L85.09,450.44 L85.77,453.76 L86.44,457.85 L87.11,462.25 L87.78,466.57 L88.45,470.49 L89.13,473.81 L89.80,476.47 L90.47,478.46 L91.14,479.89 L91.81,480.85 L92.49,481.46 L93.16,481.84 L93.83,482.06 L94.50,482.18 L95.17,482.24 L95.85,482.27 L96.52,482.29 L97.19,482.29 L171.90,482.30" fill="none" stroke="#54aede" stroke-width="1.05"/>
<path d="M72.95,499.49 L73.79,499.49 L74.63,499.47 L75.47,499.44 L76.31,499.38 L77.15,499.26 L77.99,499.05 L78.83,498.68 L79.67,498.08 L80.51,497.15 L81.35,495.76 L82.19,493.82 L83.03,491.23 L83.87,487.99 L84.71,484.17 L85.55,479.97 L86.39,475.68 L87.23,471.70 L88.07,468.46 L88.91,466.34 L89.75,465.60 L90.59,466.34 L91.43,468.46 L92.27,471.70 L93.11,475.68 L93.95,479.97 L94.79,484.17 L95.63,487.99 L96.47,491.23 L97.31,493.82 L98.15,495.76 L98.99,497.15 L99.83,498.08 L100.67,498.68 L101.51,499.05 L102.35,499.26 L103.19,499.38 L104.03,499.44 L104.87,499.47 L105.71,499.49 L106.55,499.49 Z" fill="#8c95bb" stroke="none"/>
<path d="M61.25,499.50 L72.95,499.49 L73.79,499.49 L74.63,499.47 L75.47,499.44 L76.31,499.38 L77.15,499.26 L77.99,499.05 L78.83,498.68 L79.67,498.08 L80.51,497.15 L81.35,495.76 L82.19,493.82 L83.03,491.23 L83.87,487.99 L84.71,484.17 L85.55,479.97 L86.39,475.68 L87.23,471.70 L88.07,468.46 L88.91,466.34 L89.75,465.60 L90.59,466.34 L91.43,468.46 L92.27,471.70 L93.11,475.68 L93.95,479.97 L94.79,484.17 L95.63,487.99 L96.47,491.23 L97.31,493.82 L98.15,495.76 L98.99,497.15 L99.83,498.08 L100.67,498.68 L101.51,499.05 L102.35,499.26 L103.19,499.38 L104.03,499.44 L104.87,499.47 L105.71,499.49 L106.55,499.49 L171.90,499.50" fill="none" stroke="#233c6e" stroke-width="1.05"/>
<text x="136.90" y="422.00" font-size="9.4" textLength="25.40" lengthAdjust="spacingAndGlyphs">Media</text>
<text x="133.80" y="440.10" font-size="9.4" textLength="28.50" lengthAdjust="spacingAndGlyphs">Vehicle</text>
<text x="129.40" y="458.30" font-size="9.4" textLength="32.90" lengthAdjust="spacingAndGlyphs">2500nM</text>
<text x="134.40" y="476.80" font-size="9.4" textLength="27.90" lengthAdjust="spacingAndGlyphs">500nM</text>
<text x="139.40" y="494.00" font-size="9.4" textLength="22.90" lengthAdjust="spacingAndGlyphs">50nM</text>
<rect x="61.25" y="388.75" width="110.65" height="110.75" fill="none" stroke="#111" stroke-width="1.4"/>
<line x1="78.00" y1="499.50" x2="78.00" y2="502.50" stroke="#111" stroke-width="1"/>
<text x="78.00" y="513.80" font-size="10.2" text-anchor="middle">0</text>
<text x="103.40" y="513.80" font-size="10.2" textLength="6.90" lengthAdjust="spacingAndGlyphs">10</text>
<text x="110.70" y="510.90" font-size="6.6">3</text>
<line x1="108.35" y1="499.50" x2="108.35" y2="502.50" stroke="#111" stroke-width="1"/>
<text x="130.00" y="513.80" font-size="10.2" textLength="6.90" lengthAdjust="spacingAndGlyphs">10</text>
<text x="137.30" y="510.90" font-size="6.6">4</text>
<line x1="134.95" y1="499.50" x2="134.95" y2="502.50" stroke="#111" stroke-width="1"/>
<text x="155.40" y="513.80" font-size="10.2" textLength="7.40" lengthAdjust="spacingAndGlyphs">10</text>
<text x="163.20" y="510.90" font-size="6.6">5</text>
<line x1="160.60" y1="499.50" x2="160.60" y2="502.50" stroke="#111" stroke-width="1"/>
<line x1="66.00" y1="499.50" x2="66.00" y2="501.30" stroke="#111" stroke-width="0.8"/>
<line x1="69.50" y1="499.50" x2="69.50" y2="501.30" stroke="#111" stroke-width="0.8"/>
<line x1="72.00" y1="499.50" x2="72.00" y2="501.30" stroke="#111" stroke-width="0.8"/>
<line x1="74.00" y1="499.50" x2="74.00" y2="501.30" stroke="#111" stroke-width="0.8"/>
<line x1="76.00" y1="499.50" x2="76.00" y2="501.30" stroke="#111" stroke-width="0.8"/>
<line x1="80.00" y1="499.50" x2="80.00" y2="501.30" stroke="#111" stroke-width="0.8"/>
<line x1="82.00" y1="499.50" x2="82.00" y2="501.30" stroke="#111" stroke-width="0.8"/>
<line x1="84.00" y1="499.50" x2="84.00" y2="501.30" stroke="#111" stroke-width="0.8"/>
<line x1="88.00" y1="499.50" x2="88.00" y2="501.30" stroke="#111" stroke-width="0.8"/>
<line x1="94.00" y1="499.50" x2="94.00" y2="501.30" stroke="#111" stroke-width="0.8"/>
<line x1="99.00" y1="499.50" x2="99.00" y2="501.30" stroke="#111" stroke-width="0.8"/>
<line x1="103.00" y1="499.50" x2="103.00" y2="501.30" stroke="#111" stroke-width="0.8"/>
<line x1="115.00" y1="499.50" x2="115.00" y2="501.30" stroke="#111" stroke-width="0.8"/>
<line x1="119.00" y1="499.50" x2="119.00" y2="501.30" stroke="#111" stroke-width="0.8"/>
<line x1="122.00" y1="499.50" x2="122.00" y2="501.30" stroke="#111" stroke-width="0.8"/>
<line x1="125.00" y1="499.50" x2="125.00" y2="501.30" stroke="#111" stroke-width="0.8"/>
<line x1="127.00" y1="499.50" x2="127.00" y2="501.30" stroke="#111" stroke-width="0.8"/>
<line x1="129.00" y1="499.50" x2="129.00" y2="501.30" stroke="#111" stroke-width="0.8"/>
<line x1="131.00" y1="499.50" x2="131.00" y2="501.30" stroke="#111" stroke-width="0.8"/>
<line x1="141.00" y1="499.50" x2="141.00" y2="501.30" stroke="#111" stroke-width="0.8"/>
<line x1="145.00" y1="499.50" x2="145.00" y2="501.30" stroke="#111" stroke-width="0.8"/>
<line x1="148.00" y1="499.50" x2="148.00" y2="501.30" stroke="#111" stroke-width="0.8"/>
<line x1="151.00" y1="499.50" x2="151.00" y2="501.30" stroke="#111" stroke-width="0.8"/>
<line x1="153.00" y1="499.50" x2="153.00" y2="501.30" stroke="#111" stroke-width="0.8"/>
<line x1="155.00" y1="499.50" x2="155.00" y2="501.30" stroke="#111" stroke-width="0.8"/>
<line x1="157.00" y1="499.50" x2="157.00" y2="501.30" stroke="#111" stroke-width="0.8"/>
<text x="103.90" y="530.10" font-size="8.7" class="c" textLength="24.90" lengthAdjust="spacingAndGlyphs">pSTAT1</text>
<path d="M238.24,427.49 L238.83,427.49 L239.42,427.47 L240.00,427.44 L240.59,427.38 L241.18,427.25 L241.77,427.04 L242.36,426.66 L242.94,426.04 L243.53,425.07 L244.12,423.64 L244.71,421.63 L245.30,418.97 L245.88,415.62 L246.47,411.68 L247.06,407.33 L247.65,402.90 L248.24,398.80 L248.82,395.45 L249.41,393.26 L250.00,392.50 L250.59,393.26 L251.18,395.45 L251.76,398.80 L252.35,402.90 L252.94,407.33 L253.53,411.68 L254.12,415.62 L254.70,418.97 L255.29,421.63 L255.88,423.64 L256.47,425.07 L257.06,426.04 L257.64,426.66 L258.23,427.04 L258.82,427.25 L259.41,427.38 L260.00,427.44 L260.58,427.47 L261.17,427.49 L261.76,427.49 Z" fill="#d2cbe9" stroke="none"/>
<path d="M231.25,427.50 L238.24,427.49 L238.83,427.49 L239.42,427.47 L240.00,427.44 L240.59,427.38 L241.18,427.25 L241.77,427.04 L242.36,426.66 L242.94,426.04 L243.53,425.07 L244.12,423.64 L244.71,421.63 L245.30,418.97 L245.88,415.62 L246.47,411.68 L247.06,407.33 L247.65,402.90 L248.24,398.80 L248.82,395.45 L249.41,393.26 L250.00,392.50 L250.59,393.26 L251.18,395.45 L251.76,398.80 L252.35,402.90 L252.94,407.33 L253.53,411.68 L254.12,415.62 L254.70,418.97 L255.29,421.63 L255.88,423.64 L256.47,425.07 L257.06,426.04 L257.64,426.66 L258.23,427.04 L258.82,427.25 L259.41,427.38 L260.00,427.44 L260.58,427.47 L261.17,427.49 L261.76,427.49 L341.90,427.50" fill="none" stroke="#a69dcc" stroke-width="1.05"/>
<path d="M242.61,445.59 L243.49,445.59 L244.37,445.57 L245.26,445.54 L246.14,445.48 L247.02,445.36 L247.90,445.15 L248.78,444.78 L249.67,444.18 L250.55,443.23 L251.43,441.84 L252.31,439.88 L253.19,437.28 L254.08,434.03 L254.96,430.18 L255.84,425.95 L256.72,421.64 L257.60,417.64 L258.49,414.38 L259.37,412.24 L260.25,411.50 L261.13,412.24 L262.01,414.38 L262.90,417.64 L263.78,421.64 L264.66,425.95 L265.54,430.18 L266.42,434.03 L267.31,437.28 L268.19,439.88 L269.07,441.84 L269.95,443.23 L270.83,444.18 L271.72,444.78 L272.60,445.15 L273.48,445.36 L274.36,445.48 L275.24,445.54 L276.13,445.57 L277.01,445.59 L277.89,445.59 Z" fill="#efaa9c" stroke="none"/>
<path d="M231.25,445.60 L242.61,445.59 L243.49,445.59 L244.37,445.57 L245.26,445.54 L246.14,445.48 L247.02,445.36 L247.90,445.15 L248.78,444.78 L249.67,444.18 L250.55,443.23 L251.43,441.84 L252.31,439.88 L253.19,437.28 L254.08,434.03 L254.96,430.18 L255.84,425.95 L256.72,421.64 L257.60,417.64 L258.49,414.38 L259.37,412.24 L260.25,411.50 L261.13,412.24 L262.01,414.38 L262.90,417.64 L263.78,421.64 L264.66,425.95 L265.54,430.18 L266.42,434.03 L267.31,437.28 L268.19,439.88 L269.07,441.84 L269.95,443.23 L270.83,444.18 L271.72,444.78 L272.60,445.15 L273.48,445.36 L274.36,445.48 L275.24,445.54 L276.13,445.57 L277.01,445.59 L277.89,445.59 L341.90,445.60" fill="none" stroke="#b52039" stroke-width="1.05"/>
<path d="M239.49,463.79 L240.08,463.79 L240.67,463.77 L241.25,463.74 L241.84,463.67 L242.43,463.55 L243.02,463.32 L243.61,462.94 L244.19,462.30 L244.78,461.32 L245.37,459.85 L245.96,457.80 L246.55,455.07 L247.13,451.65 L247.72,447.61 L248.31,443.17 L248.90,438.64 L249.49,434.44 L250.07,431.02 L250.66,428.78 L251.25,428.00 L251.84,428.78 L252.43,431.02 L253.01,434.44 L253.60,438.64 L254.19,443.17 L254.78,447.61 L255.37,451.65 L255.95,455.07 L256.54,457.80 L257.13,459.85 L257.72,461.32 L258.31,462.30 L258.89,462.94 L259.48,463.32 L260.07,463.55 L260.66,463.67 L261.25,463.74 L261.83,463.77 L262.42,463.79 L263.01,463.79 Z" fill="#e7e9d8" stroke="none"/>
<path d="M231.25,463.80 L239.49,463.79 L240.08,463.79 L240.67,463.77 L241.25,463.74 L241.84,463.67 L242.43,463.55 L243.02,463.32 L243.61,462.94 L244.19,462.30 L244.78,461.32 L245.37,459.85 L245.96,457.80 L246.55,455.07 L247.13,451.65 L247.72,447.61 L248.31,443.17 L248.90,438.64 L249.49,434.44 L250.07,431.02 L250.66,428.78 L251.25,428.00 L251.84,428.78 L252.43,431.02 L253.01,434.44 L253.60,438.64 L254.19,443.17 L254.78,447.61 L255.37,451.65 L255.95,455.07 L256.54,457.80 L257.13,459.85 L257.72,461.32 L258.31,462.30 L258.89,462.94 L259.48,463.32 L260.07,463.55 L260.66,463.67 L261.25,463.74 L261.83,463.77 L262.42,463.79 L263.01,463.79 L341.90,463.80" fill="none" stroke="#c9ceac" stroke-width="1.05"/>
<path d="M240.31,482.29 L240.98,482.29 L241.65,482.27 L242.33,482.24 L243.00,482.18 L243.67,482.06 L244.34,481.84 L245.01,481.46 L245.69,480.85 L246.36,479.89 L247.03,478.46 L247.70,476.47 L248.37,473.81 L249.05,470.49 L249.72,466.57 L250.39,462.25 L251.06,457.85 L251.73,453.76 L252.41,450.44 L253.08,448.26 L253.75,447.50 L254.42,448.26 L255.09,450.44 L255.77,453.76 L256.44,457.85 L257.11,462.25 L257.78,466.57 L258.45,470.49 L259.13,473.81 L259.80,476.47 L260.47,478.46 L261.14,479.89 L261.81,480.85 L262.49,481.46 L263.16,481.84 L263.83,482.06 L264.50,482.18 L265.17,482.24 L265.85,482.27 L266.52,482.29 L267.19,482.29 Z" fill="#b9dcf1" stroke="none"/>
<path d="M231.25,482.30 L240.31,482.29 L240.98,482.29 L241.65,482.27 L242.33,482.24 L243.00,482.18 L243.67,482.06 L244.34,481.84 L245.01,481.46 L245.69,480.85 L246.36,479.89 L247.03,478.46 L247.70,476.47 L248.37,473.81 L249.05,470.49 L249.72,466.57 L250.39,462.25 L251.06,457.85 L251.73,453.76 L252.41,450.44 L253.08,448.26 L253.75,447.50 L254.42,448.26 L255.09,450.44 L255.77,453.76 L256.44,457.85 L257.11,462.25 L257.78,466.57 L258.45,470.49 L259.13,473.81 L259.80,476.47 L260.47,478.46 L261.14,479.89 L261.81,480.85 L262.49,481.46 L263.16,481.84 L263.83,482.06 L264.50,482.18 L265.17,482.24 L265.85,482.27 L266.52,482.29 L267.19,482.29 L341.90,482.30" fill="none" stroke="#54aede" stroke-width="1.05"/>
<path d="M242.95,499.49 L243.79,499.49 L244.63,499.47 L245.47,499.44 L246.31,499.38 L247.15,499.26 L247.99,499.05 L248.83,498.68 L249.67,498.08 L250.51,497.15 L251.35,495.76 L252.19,493.82 L253.03,491.23 L253.87,487.99 L254.71,484.17 L255.55,479.97 L256.39,475.68 L257.23,471.70 L258.07,468.46 L258.91,466.34 L259.75,465.60 L260.59,466.34 L261.43,468.46 L262.27,471.70 L263.11,475.68 L263.95,479.97 L264.79,484.17 L265.63,487.99 L266.47,491.23 L267.31,493.82 L268.15,495.76 L268.99,497.15 L269.83,498.08 L270.67,498.68 L271.51,499.05 L272.35,499.26 L273.19,499.38 L274.03,499.44 L274.87,499.47 L275.71,499.49 L276.55,499.49 Z" fill="#8c95bb" stroke="none"/>
<path d="M231.25,499.50 L242.95,499.49 L243.79,499.49 L244.63,499.47 L245.47,499.44 L246.31,499.38 L247.15,499.26 L247.99,499.05 L248.83,498.68 L249.67,498.08 L250.51,497.15 L251.35,495.76 L252.19,493.82 L253.03,491.23 L253.87,487.99 L254.71,484.17 L255.55,479.97 L256.39,475.68 L257.23,471.70 L258.07,468.46 L258.91,466.34 L259.75,465.60 L260.59,466.34 L261.43,468.46 L262.27,471.70 L263.11,475.68 L263.95,479.97 L264.79,484.17 L265.63,487.99 L266.47,491.23 L267.31,493.82 L268.15,495.76 L268.99,497.15 L269.83,498.08 L270.67,498.68 L271.51,499.05 L272.35,499.26 L273.19,499.38 L274.03,499.44 L274.87,499.47 L275.71,499.49 L276.55,499.49 L341.90,499.50" fill="none" stroke="#233c6e" stroke-width="1.05"/>
<text x="312.70" y="422.00" font-size="9.4" textLength="25.40" lengthAdjust="spacingAndGlyphs">Media</text>
<text x="309.40" y="440.10" font-size="9.4" textLength="28.70" lengthAdjust="spacingAndGlyphs">Vehicle</text>
<text x="305.00" y="458.30" font-size="9.4" textLength="33.10" lengthAdjust="spacingAndGlyphs">1000nM</text>
<text x="310.00" y="476.80" font-size="9.4" textLength="28.10" lengthAdjust="spacingAndGlyphs">300nM</text>
<text x="315.00" y="494.00" font-size="9.4" textLength="23.10" lengthAdjust="spacingAndGlyphs">30nM</text>
<rect x="231.25" y="388.75" width="110.65" height="110.75" fill="none" stroke="#111" stroke-width="1.4"/>
<line x1="248.00" y1="499.50" x2="248.00" y2="502.50" stroke="#111" stroke-width="1"/>
<text x="248.00" y="513.80" font-size="10.2" text-anchor="middle">0</text>
<text x="273.40" y="513.80" font-size="10.2" textLength="6.90" lengthAdjust="spacingAndGlyphs">10</text>
<text x="280.70" y="510.90" font-size="6.6">3</text>
<line x1="278.35" y1="499.50" x2="278.35" y2="502.50" stroke="#111" stroke-width="1"/>
<text x="300.00" y="513.80" font-size="10.2" textLength="6.90" lengthAdjust="spacingAndGlyphs">10</text>
<text x="307.30" y="510.90" font-size="6.6">4</text>
<line x1="304.95" y1="499.50" x2="304.95" y2="502.50" stroke="#111" stroke-width="1"/>
<text x="325.40" y="513.80" font-size="10.2" textLength="7.40" lengthAdjust="spacingAndGlyphs">10</text>
<text x="333.20" y="510.90" font-size="6.6">5</text>
<line x1="330.60" y1="499.50" x2="330.60" y2="502.50" stroke="#111" stroke-width="1"/>
<line x1="236.00" y1="499.50" x2="236.00" y2="501.30" stroke="#111" stroke-width="0.8"/>
<line x1="239.50" y1="499.50" x2="239.50" y2="501.30" stroke="#111" stroke-width="0.8"/>
<line x1="242.00" y1="499.50" x2="242.00" y2="501.30" stroke="#111" stroke-width="0.8"/>
<line x1="244.00" y1="499.50" x2="244.00" y2="501.30" stroke="#111" stroke-width="0.8"/>
<line x1="246.00" y1="499.50" x2="246.00" y2="501.30" stroke="#111" stroke-width="0.8"/>
<line x1="250.00" y1="499.50" x2="250.00" y2="501.30" stroke="#111" stroke-width="0.8"/>
<line x1="252.00" y1="499.50" x2="252.00" y2="501.30" stroke="#111" stroke-width="0.8"/>
<line x1="254.00" y1="499.50" x2="254.00" y2="501.30" stroke="#111" stroke-width="0.8"/>
<line x1="258.00" y1="499.50" x2="258.00" y2="501.30" stroke="#111" stroke-width="0.8"/>
<line x1="264.00" y1="499.50" x2="264.00" y2="501.30" stroke="#111" stroke-width="0.8"/>
<line x1="269.00" y1="499.50" x2="269.00" y2="501.30" stroke="#111" stroke-width="0.8"/>
<line x1="273.00" y1="499.50" x2="273.00" y2="501.30" stroke="#111" stroke-width="0.8"/>
<line x1="285.00" y1="499.50" x2="285.00" y2="501.30" stroke="#111" stroke-width="0.8"/>
<line x1="289.00" y1="499.50" x2="289.00" y2="501.30" stroke="#111" stroke-width="0.8"/>
<line x1="292.00" y1="499.50" x2="292.00" y2="501.30" stroke="#111" stroke-width="0.8"/>
<line x1="295.00" y1="499.50" x2="295.00" y2="501.30" stroke="#111" stroke-width="0.8"/>
<line x1="297.00" y1="499.50" x2="297.00" y2="501.30" stroke="#111" stroke-width="0.8"/>
<line x1="299.00" y1="499.50" x2="299.00" y2="501.30" stroke="#111" stroke-width="0.8"/>
<line x1="301.00" y1="499.50" x2="301.00" y2="501.30" stroke="#111" stroke-width="0.8"/>
<line x1="311.00" y1="499.50" x2="311.00" y2="501.30" stroke="#111" stroke-width="0.8"/>
<line x1="315.00" y1="499.50" x2="315.00" y2="501.30" stroke="#111" stroke-width="0.8"/>
<line x1="318.00" y1="499.50" x2="318.00" y2="501.30" stroke="#111" stroke-width="0.8"/>
<line x1="321.00" y1="499.50" x2="321.00" y2="501.30" stroke="#111" stroke-width="0.8"/>
<line x1="323.00" y1="499.50" x2="323.00" y2="501.30" stroke="#111" stroke-width="0.8"/>
<line x1="325.00" y1="499.50" x2="325.00" y2="501.30" stroke="#111" stroke-width="0.8"/>
<line x1="327.00" y1="499.50" x2="327.00" y2="501.30" stroke="#111" stroke-width="0.8"/>
<text x="273.90" y="530.10" font-size="8.7" class="c" textLength="24.90" lengthAdjust="spacingAndGlyphs">pSTAT1</text>
<path d="M408.24,427.49 L408.83,427.49 L409.42,427.47 L410.00,427.44 L410.59,427.38 L411.18,427.25 L411.77,427.04 L412.36,426.66 L412.94,426.04 L413.53,425.07 L414.12,423.64 L414.71,421.63 L415.30,418.97 L415.88,415.62 L416.47,411.68 L417.06,407.33 L417.65,402.90 L418.24,398.80 L418.82,395.45 L419.41,393.26 L420.00,392.50 L420.59,393.26 L421.18,395.45 L421.76,398.80 L422.35,402.90 L422.94,407.33 L423.53,411.68 L424.12,415.62 L424.70,418.97 L425.29,421.63 L425.88,423.64 L426.47,425.07 L427.06,426.04 L427.64,426.66 L428.23,427.04 L428.82,427.25 L429.41,427.38 L430.00,427.44 L430.58,427.47 L431.17,427.49 L431.76,427.49 Z" fill="#d2cbe9" stroke="none"/>
<path d="M401.25,427.50 L408.24,427.49 L408.83,427.49 L409.42,427.47 L410.00,427.44 L410.59,427.38 L411.18,427.25 L411.77,427.04 L412.36,426.66 L412.94,426.04 L413.53,425.07 L414.12,423.64 L414.71,421.63 L415.30,418.97 L415.88,415.62 L416.47,411.68 L417.06,407.33 L417.65,402.90 L418.24,398.80 L418.82,395.45 L419.41,393.26 L420.00,392.50 L420.59,393.26 L421.18,395.45 L421.76,398.80 L422.35,402.90 L422.94,407.33 L423.53,411.68 L424.12,415.62 L424.70,418.97 L425.29,421.63 L425.88,423.64 L426.47,425.07 L427.06,426.04 L427.64,426.66 L428.23,427.04 L428.82,427.25 L429.41,427.38 L430.00,427.44 L430.58,427.47 L431.17,427.49 L431.76,427.49 L511.90,427.50" fill="none" stroke="#a69dcc" stroke-width="1.05"/>
<path d="M412.61,445.59 L413.49,445.59 L414.37,445.57 L415.26,445.54 L416.14,445.48 L417.02,445.36 L417.90,445.15 L418.78,444.78 L419.67,444.18 L420.55,443.23 L421.43,441.84 L422.31,439.88 L423.19,437.28 L424.08,434.03 L424.96,430.18 L425.84,425.95 L426.72,421.64 L427.60,417.64 L428.49,414.38 L429.37,412.24 L430.25,411.50 L431.13,412.24 L432.01,414.38 L432.90,417.64 L433.78,421.64 L434.66,425.95 L435.54,430.18 L436.42,434.03 L437.31,437.28 L438.19,439.88 L439.07,441.84 L439.95,443.23 L440.83,444.18 L441.72,444.78 L442.60,445.15 L443.48,445.36 L444.36,445.48 L445.24,445.54 L446.13,445.57 L447.01,445.59 L447.89,445.59 Z" fill="#efaa9c" stroke="none"/>
<path d="M401.25,445.60 L412.61,445.59 L413.49,445.59 L414.37,445.57 L415.26,445.54 L416.14,445.48 L417.02,445.36 L417.90,445.15 L418.78,444.78 L419.67,444.18 L420.55,443.23 L421.43,441.84 L422.31,439.88 L423.19,437.28 L424.08,434.03 L424.96,430.18 L425.84,425.95 L426.72,421.64 L427.60,417.64 L428.49,414.38 L429.37,412.24 L430.25,411.50 L431.13,412.24 L432.01,414.38 L432.90,417.64 L433.78,421.64 L434.66,425.95 L435.54,430.18 L436.42,434.03 L437.31,437.28 L438.19,439.88 L439.07,441.84 L439.95,443.23 L440.83,444.18 L441.72,444.78 L442.60,445.15 L443.48,445.36 L444.36,445.48 L445.24,445.54 L446.13,445.57 L447.01,445.59 L447.89,445.59 L511.90,445.60" fill="none" stroke="#b52039" stroke-width="1.05"/>
<path d="M409.49,463.79 L410.08,463.79 L410.67,463.77 L411.25,463.74 L411.84,463.67 L412.43,463.55 L413.02,463.32 L413.61,462.94 L414.19,462.30 L414.78,461.32 L415.37,459.85 L415.96,457.80 L416.55,455.07 L417.13,451.65 L417.72,447.61 L418.31,443.17 L418.90,438.64 L419.49,434.44 L420.07,431.02 L420.66,428.78 L421.25,428.00 L421.84,428.78 L422.43,431.02 L423.01,434.44 L423.60,438.64 L424.19,443.17 L424.78,447.61 L425.37,451.65 L425.95,455.07 L426.54,457.80 L427.13,459.85 L427.72,461.32 L428.31,462.30 L428.89,462.94 L429.48,463.32 L430.07,463.55 L430.66,463.67 L431.25,463.74 L431.83,463.77 L432.42,463.79 L433.01,463.79 Z" fill="#e7e9d8" stroke="none"/>
<path d="M401.25,463.80 L409.49,463.79 L410.08,463.79 L410.67,463.77 L411.25,463.74 L411.84,463.67 L412.43,463.55 L413.02,463.32 L413.61,462.94 L414.19,462.30 L414.78,461.32 L415.37,459.85 L415.96,457.80 L416.55,455.07 L417.13,451.65 L417.72,447.61 L418.31,443.17 L418.90,438.64 L419.49,434.44 L420.07,431.02 L420.66,428.78 L421.25,428.00 L421.84,428.78 L422.43,431.02 L423.01,434.44 L423.60,438.64 L424.19,443.17 L424.78,447.61 L425.37,451.65 L425.95,455.07 L426.54,457.80 L427.13,459.85 L427.72,461.32 L428.31,462.30 L428.89,462.94 L429.48,463.32 L430.07,463.55 L430.66,463.67 L431.25,463.74 L431.83,463.77 L432.42,463.79 L433.01,463.79 L511.90,463.80" fill="none" stroke="#c9ceac" stroke-width="1.05"/>
<path d="M410.31,482.29 L410.98,482.29 L411.65,482.27 L412.33,482.24 L413.00,482.18 L413.67,482.06 L414.34,481.84 L415.01,481.46 L415.69,480.85 L416.36,479.89 L417.03,478.46 L417.70,476.47 L418.37,473.81 L419.05,470.49 L419.72,466.57 L420.39,462.25 L421.06,457.85 L421.73,453.76 L422.41,450.44 L423.08,448.26 L423.75,447.50 L424.42,448.26 L425.09,450.44 L425.77,453.76 L426.44,457.85 L427.11,462.25 L427.78,466.57 L428.45,470.49 L429.13,473.81 L429.80,476.47 L430.47,478.46 L431.14,479.89 L431.81,480.85 L432.49,481.46 L433.16,481.84 L433.83,482.06 L434.50,482.18 L435.17,482.24 L435.85,482.27 L436.52,482.29 L437.19,482.29 Z" fill="#b9dcf1" stroke="none"/>
<path d="M401.25,482.30 L410.31,482.29 L410.98,482.29 L411.65,482.27 L412.33,482.24 L413.00,482.18 L413.67,482.06 L414.34,481.84 L415.01,481.46 L415.69,480.85 L416.36,479.89 L417.03,478.46 L417.70,476.47 L418.37,473.81 L419.05,470.49 L419.72,466.57 L420.39,462.25 L421.06,457.85 L421.73,453.76 L422.41,450.44 L423.08,448.26 L423.75,447.50 L424.42,448.26 L425.09,450.44 L425.77,453.76 L426.44,457.85 L427.11,462.25 L427.78,466.57 L428.45,470.49 L429.13,473.81 L429.80,476.47 L430.47,478.46 L431.14,479.89 L431.81,480.85 L432.49,481.46 L433.16,481.84 L433.83,482.06 L434.50,482.18 L435.17,482.24 L435.85,482.27 L436.52,482.29 L437.19,482.29 L511.90,482.30" fill="none" stroke="#54aede" stroke-width="1.05"/>
<path d="M412.95,499.49 L413.79,499.49 L414.63,499.47 L415.47,499.44 L416.31,499.38 L417.15,499.26 L417.99,499.05 L418.83,498.68 L419.67,498.08 L420.51,497.15 L421.35,495.76 L422.19,493.82 L423.03,491.23 L423.87,487.99 L424.71,484.17 L425.55,479.97 L426.39,475.68 L427.23,471.70 L428.07,468.46 L428.91,466.34 L429.75,465.60 L430.59,466.34 L431.43,468.46 L432.27,471.70 L433.11,475.68 L433.95,479.97 L434.79,484.17 L435.63,487.99 L436.47,491.23 L437.31,493.82 L438.15,495.76 L438.99,497.15 L439.83,498.08 L440.67,498.68 L441.51,499.05 L442.35,499.26 L443.19,499.38 L444.03,499.44 L444.87,499.47 L445.71,499.49 L446.55,499.49 Z" fill="#8c95bb" stroke="none"/>
<path d="M401.25,499.50 L412.95,499.49 L413.79,499.49 L414.63,499.47 L415.47,499.44 L416.31,499.38 L417.15,499.26 L417.99,499.05 L418.83,498.68 L419.67,498.08 L420.51,497.15 L421.35,495.76 L422.19,493.82 L423.03,491.23 L423.87,487.99 L424.71,484.17 L425.55,479.97 L426.39,475.68 L427.23,471.70 L428.07,468.46 L428.91,466.34 L429.75,465.60 L430.59,466.34 L431.43,468.46 L432.27,471.70 L433.11,475.68 L433.95,479.97 L434.79,484.17 L435.63,487.99 L436.47,491.23 L437.31,493.82 L438.15,495.76 L438.99,497.15 L439.83,498.08 L440.67,498.68 L441.51,499.05 L442.35,499.26 L443.19,499.38 L444.03,499.44 L444.87,499.47 L445.71,499.49 L446.55,499.49 L511.90,499.50" fill="none" stroke="#233c6e" stroke-width="1.05"/>
<text x="484.40" y="422.00" font-size="9.4" textLength="25.00" lengthAdjust="spacingAndGlyphs">Media</text>
<text x="481.00" y="440.10" font-size="9.4" textLength="28.40" lengthAdjust="spacingAndGlyphs">Vehicle</text>
<text x="476.90" y="458.30" font-size="9.4" textLength="32.50" lengthAdjust="spacingAndGlyphs">1000nM</text>
<text x="486.50" y="476.80" font-size="9.4" textLength="22.90" lengthAdjust="spacingAndGlyphs">50nM</text>
<text x="492.50" y="494.00" font-size="9.4" textLength="16.90" lengthAdjust="spacingAndGlyphs">1nM</text>
<rect x="401.25" y="388.75" width="110.65" height="110.75" fill="none" stroke="#111" stroke-width="1.4"/>
<line x1="418.00" y1="499.50" x2="418.00" y2="502.50" stroke="#111" stroke-width="1"/>
<text x="418.00" y="513.80" font-size="10.2" text-anchor="middle">0</text>
<text x="443.40" y="513.80" font-size="10.2" textLength="6.90" lengthAdjust="spacingAndGlyphs">10</text>
<text x="450.70" y="510.90" font-size="6.6">3</text>
<line x1="448.35" y1="499.50" x2="448.35" y2="502.50" stroke="#111" stroke-width="1"/>
<text x="470.00" y="513.80" font-size="10.2" textLength="6.90" lengthAdjust="spacingAndGlyphs">10</text>
<text x="477.30" y="510.90" font-size="6.6">4</text>
<line x1="474.95" y1="499.50" x2="474.95" y2="502.50" stroke="#111" stroke-width="1"/>
<text x="495.40" y="513.80" font-size="10.2" textLength="7.40" lengthAdjust="spacingAndGlyphs">10</text>
<text x="503.20" y="510.90" font-size="6.6">5</text>
<line x1="500.60" y1="499.50" x2="500.60" y2="502.50" stroke="#111" stroke-width="1"/>
<line x1="406.00" y1="499.50" x2="406.00" y2="501.30" stroke="#111" stroke-width="0.8"/>
<line x1="409.50" y1="499.50" x2="409.50" y2="501.30" stroke="#111" stroke-width="0.8"/>
<line x1="412.00" y1="499.50" x2="412.00" y2="501.30" stroke="#111" stroke-width="0.8"/>
<line x1="414.00" y1="499.50" x2="414.00" y2="501.30" stroke="#111" stroke-width="0.8"/>
<line x1="416.00" y1="499.50" x2="416.00" y2="501.30" stroke="#111" stroke-width="0.8"/>
<line x1="420.00" y1="499.50" x2="420.00" y2="501.30" stroke="#111" stroke-width="0.8"/>
<line x1="422.00" y1="499.50" x2="422.00" y2="501.30" stroke="#111" stroke-width="0.8"/>
<line x1="424.00" y1="499.50" x2="424.00" y2="501.30" stroke="#111" stroke-width="0.8"/>
<line x1="428.00" y1="499.50" x2="428.00" y2="501.30" stroke="#111" stroke-width="0.8"/>
<line x1="434.00" y1="499.50" x2="434.00" y2="501.30" stroke="#111" stroke-width="0.8"/>
<line x1="439.00" y1="499.50" x2="439.00" y2="501.30" stroke="#111" stroke-width="0.8"/>
<line x1="443.00" y1="499.50" x2="443.00" y2="501.30" stroke="#111" stroke-width="0.8"/>
<line x1="455.00" y1="499.50" x2="455.00" y2="501.30" stroke="#111" stroke-width="0.8"/>
<line x1="459.00" y1="499.50" x2="459.00" y2="501.30" stroke="#111" stroke-width="0.8"/>
<line x1="462.00" y1="499.50" x2="462.00" y2="501.30" stroke="#111" stroke-width="0.8"/>
<line x1="465.00" y1="499.50" x2="465.00" y2="501.30" stroke="#111" stroke-width="0.8"/>
<line x1="467.00" y1="499.50" x2="467.00" y2="501.30" stroke="#111" stroke-width="0.8"/>
<line x1="469.00" y1="499.50" x2="469.00" y2="501.30" stroke="#111" stroke-width="0.8"/>
<line x1="471.00" y1="499.50" x2="471.00" y2="501.30" stroke="#111" stroke-width="0.8"/>
<line x1="481.00" y1="499.50" x2="481.00" y2="501.30" stroke="#111" stroke-width="0.8"/>
<line x1="485.00" y1="499.50" x2="485.00" y2="501.30" stroke="#111" stroke-width="0.8"/>
<line x1="488.00" y1="499.50" x2="488.00" y2="501.30" stroke="#111" stroke-width="0.8"/>
<line x1="491.00" y1="499.50" x2="491.00" y2="501.30" stroke="#111" stroke-width="0.8"/>
<line x1="493.00" y1="499.50" x2="493.00" y2="501.30" stroke="#111" stroke-width="0.8"/>
<line x1="495.00" y1="499.50" x2="495.00" y2="501.30" stroke="#111" stroke-width="0.8"/>
<line x1="497.00" y1="499.50" x2="497.00" y2="501.30" stroke="#111" stroke-width="0.8"/>
<text x="443.90" y="530.10" font-size="8.7" class="c" textLength="24.90" lengthAdjust="spacingAndGlyphs">pSTAT1</text>
<line x1="70.20" y1="579.00" x2="70.20" y2="677.70" stroke="#111" stroke-width="1.3"/>
<line x1="69.60" y1="677.10" x2="165.50" y2="677.10" stroke="#111" stroke-width="1.3"/>
<line x1="66.60" y1="677.10" x2="70.20" y2="677.10" stroke="#111" stroke-width="1"/>
<line x1="66.60" y1="645.40" x2="70.20" y2="645.40" stroke="#111" stroke-width="1"/>
<line x1="66.60" y1="613.70" x2="70.20" y2="613.70" stroke="#111" stroke-width="1"/>
<line x1="66.60" y1="582.00" x2="70.20" y2="582.00" stroke="#111" stroke-width="1"/>
<text x="53.20" y="585.00" font-size="9.6" textLength="9.70" lengthAdjust="spacingAndGlyphs">60</text>
<text x="53.20" y="616.70" font-size="9.6" textLength="9.70" lengthAdjust="spacingAndGlyphs">40</text>
<text x="53.60" y="648.40" font-size="9.6" textLength="9.30" lengthAdjust="spacingAndGlyphs">20</text>
<text x="58.30" y="680.10" font-size="9.6" textLength="4.60" lengthAdjust="spacingAndGlyphs">0</text>
<line x1="81.90" y1="677.10" x2="81.90" y2="680.10" stroke="#111" stroke-width="1"/>
<line x1="100.00" y1="677.10" x2="100.00" y2="680.10" stroke="#111" stroke-width="1"/>
<line x1="117.50" y1="677.10" x2="117.50" y2="680.10" stroke="#111" stroke-width="1"/>
<line x1="135.20" y1="677.10" x2="135.20" y2="680.10" stroke="#111" stroke-width="1"/>
<line x1="153.40" y1="677.10" x2="153.40" y2="680.10" stroke="#111" stroke-width="1"/>
<text x="85.90" y="688.60" font-size="9.6" text-anchor="end" transform="rotate(-45 85.90 688.60)">No tx</text>
<text x="104.00" y="688.60" font-size="9.6" text-anchor="end" transform="rotate(-45 104.00 688.60)">Veh</text>
<text x="121.50" y="688.60" font-size="9.6" text-anchor="end" transform="rotate(-45 121.50 688.60)">Ita</text>
<text x="139.20" y="688.60" font-size="9.6" text-anchor="end" transform="rotate(-45 139.20 688.60)">Fed</text>
<text x="157.40" y="688.60" font-size="9.6" text-anchor="end" transform="rotate(-45 157.40 688.60)">Ruxo</text>
<line x1="100.20" y1="704.90" x2="153.00" y2="704.90" stroke="#555" stroke-width="1.1"/>
<text x="117.00" y="715.50" font-size="9.2" textLength="19.10" lengthAdjust="spacingAndGlyphs">IFNg</text>
<text x="47.30" y="628.20" font-size="10.3" class="c" text-anchor="middle" textLength="100.50" lengthAdjust="spacingAndGlyphs" transform="rotate(-90 47.30 628.20)">% pSTAT1 + of F480 + cells</text>
<path d="M81.90,669.49V675.83M79.10,669.49h5.60M79.10,675.83h5.60" stroke="#9a92c8" stroke-width="1.0" fill="none"/>
<path d="M81.90,665.91L83.51,668.78L80.29,668.78Z" fill="#9a92c8"/>
<rect x="77.00" y="672.21" width="2.80" height="2.80" fill="#9a92c8"/>
<rect x="80.50" y="672.53" width="2.80" height="2.80" fill="#9a92c8"/>
<rect x="84.00" y="672.85" width="2.80" height="2.80" fill="#9a92c8"/>
<line x1="76.10" y1="672.66" x2="87.70" y2="672.66" stroke="#8a82bb" stroke-width="1.1"/>
<path d="M100.00,601.18V636.05M97.20,601.18h5.60M97.20,636.05h5.60" stroke="#d35a72" stroke-width="1.0" fill="none"/>
<rect x="98.00" y="600.29" width="4.00" height="4.00" fill="#c8102e"/>
<rect x="98.00" y="607.42" width="4.00" height="4.00" fill="#c8102e"/>
<rect x="98.00" y="615.03" width="4.00" height="4.00" fill="#c8102e"/>
<rect x="98.00" y="640.39" width="4.00" height="4.00" fill="#c8102e"/>
<line x1="94.20" y1="618.61" x2="105.80" y2="618.61" stroke="#3a2a2a" stroke-width="1.1"/>
<path d="M117.50,670.76V673.93M114.70,670.76h5.60M114.70,673.93h5.60" stroke="#1c4f7f" stroke-width="1.0" fill="none"/>
<path d="M116.80,669.49L113.72,667.77L113.72,671.22Z" fill="#1c4f7f"/>
<path d="M123.30,672.98L120.22,671.25L120.22,674.70Z" fill="#1c4f7f"/>
<path d="M116.80,674.72L113.72,673.00L113.72,676.45Z" fill="#1c4f7f"/>
<path d="M120.30,671.39L117.22,669.67L117.22,673.12Z" fill="#1c4f7f"/>
<line x1="111.70" y1="672.35" x2="123.30" y2="672.35" stroke="#1c4f7f" stroke-width="1.1"/>
<path d="M135.20,656.97V668.38M132.40,656.97h5.60M132.40,668.38h5.60" stroke="#f5bb1c" stroke-width="1.0" fill="none"/>
<path d="M131.70,659.29L133.77,655.60L129.63,655.60Z" fill="#f5bb1c"/>
<path d="M139.20,659.29L141.27,655.60L137.13,655.60Z" fill="#f5bb1c"/>
<path d="M135.20,667.37L137.27,663.68L133.13,663.68Z" fill="#f5bb1c"/>
<path d="M135.20,672.13L137.27,668.44L133.13,668.44Z" fill="#f5bb1c"/>
<line x1="129.40" y1="662.68" x2="141.00" y2="662.68" stroke="#222" stroke-width="1.1"/>
<path d="M153.40,671.71V674.88M150.60,671.71h5.60M150.60,674.88h5.60" stroke="#3aa53a" stroke-width="1.0" fill="none"/>
<path d="M156.90,668.64L158.62,671.72L155.18,671.72Z" fill="#3aa53a"/>
<path d="M151.90,671.50L153.62,674.57L150.18,674.57Z" fill="#3aa53a"/>
<path d="M155.90,672.45L157.62,675.52L154.18,675.52Z" fill="#3aa53a"/>
<path d="M150.40,671.81L152.12,674.89L148.68,674.89Z" fill="#3aa53a"/>
<line x1="147.60" y1="673.30" x2="159.20" y2="673.30" stroke="#3aa53a" stroke-width="1.1"/>
<line x1="103.80" y1="573.90" x2="154.60" y2="573.90" stroke="#6e6e6e" stroke-width="1.0"/>
<path d="M123.60,568.95L123.60,571.85M122.34,569.67L124.86,571.12M122.34,571.12L124.86,569.67" stroke="#2a2a2a" stroke-width="1.0" fill="none"/>
<path d="M127.37,568.95L127.37,571.85M126.11,569.67L128.62,571.12M126.11,571.12L128.62,569.67" stroke="#2a2a2a" stroke-width="1.0" fill="none"/>
<path d="M131.13,568.95L131.13,571.85M129.88,569.67L132.39,571.12M129.88,571.12L132.39,569.67" stroke="#2a2a2a" stroke-width="1.0" fill="none"/>
<path d="M134.90,568.95L134.90,571.85M133.64,569.67L136.16,571.12M133.64,571.12L136.16,569.67" stroke="#2a2a2a" stroke-width="1.0" fill="none"/>
<line x1="101.80" y1="585.00" x2="135.70" y2="585.00" stroke="#6e6e6e" stroke-width="1.0"/>
<path d="M113.30,579.75L113.30,582.65M112.04,580.48L114.56,581.93M112.04,581.93L114.56,580.48" stroke="#2a2a2a" stroke-width="1.0" fill="none"/>
<path d="M117.03,579.75L117.03,582.65M115.78,580.48L118.29,581.93M115.78,581.93L118.29,580.48" stroke="#2a2a2a" stroke-width="1.0" fill="none"/>
<path d="M120.77,579.75L120.77,582.65M119.51,580.48L122.02,581.93M119.51,581.93L122.02,580.48" stroke="#2a2a2a" stroke-width="1.0" fill="none"/>
<path d="M124.50,579.75L124.50,582.65M123.24,580.48L125.76,581.93M123.24,581.93L125.76,580.48" stroke="#2a2a2a" stroke-width="1.0" fill="none"/>
<line x1="85.40" y1="597.00" x2="99.20" y2="597.00" stroke="#6e6e6e" stroke-width="1.0"/>
<path d="M86.70,591.55L86.70,594.45M85.44,592.27L87.96,593.73M85.44,593.73L87.96,592.27" stroke="#2a2a2a" stroke-width="1.0" fill="none"/>
<path d="M90.30,591.55L90.30,594.45M89.04,592.27L91.56,593.73M89.04,593.73L91.56,592.27" stroke="#2a2a2a" stroke-width="1.0" fill="none"/>
<path d="M93.90,591.55L93.90,594.45M92.64,592.27L95.16,593.73M92.64,593.73L95.16,592.27" stroke="#2a2a2a" stroke-width="1.0" fill="none"/>
<path d="M97.50,591.55L97.50,594.45M96.24,592.27L98.76,593.73M96.24,593.73L98.76,592.27" stroke="#2a2a2a" stroke-width="1.0" fill="none"/>
<line x1="100.80" y1="597.00" x2="115.10" y2="597.00" stroke="#6e6e6e" stroke-width="1.0"/>
<path d="M104.10,591.55L104.10,594.45M102.84,592.27L105.36,593.73M102.84,593.73L105.36,592.27" stroke="#2a2a2a" stroke-width="1.0" fill="none"/>
<path d="M107.70,591.55L107.70,594.45M106.44,592.27L108.96,593.73M106.44,593.73L108.96,592.27" stroke="#2a2a2a" stroke-width="1.0" fill="none"/>
<path d="M111.30,591.55L111.30,594.45M110.04,592.27L112.56,593.73M110.04,593.73L112.56,592.27" stroke="#2a2a2a" stroke-width="1.0" fill="none"/>
<path d="M114.90,591.55L114.90,594.45M113.64,592.27L116.16,593.73M113.64,593.73L116.16,592.27" stroke="#2a2a2a" stroke-width="1.0" fill="none"/>
<line x1="139.60" y1="651.00" x2="153.20" y2="651.00" stroke="#6e6e6e" stroke-width="1.0"/>
<path d="M145.60,646.35L145.60,649.25M144.34,647.07L146.86,648.52M144.34,648.52L146.86,647.07" stroke="#2a2a2a" stroke-width="1.0" fill="none"/>
<path d="M233.48,607.89 L234.13,607.89 L234.78,607.87 L235.43,607.84 L236.08,607.77 L236.73,607.65 L237.39,607.43 L238.04,607.04 L238.69,606.41 L239.34,605.43 L239.99,603.97 L240.64,601.92 L241.29,599.21 L241.94,595.80 L242.59,591.78 L243.24,587.36 L243.90,582.85 L244.55,578.67 L245.20,575.26 L245.85,573.03 L246.50,572.25 L247.15,573.03 L247.80,575.26 L248.45,578.67 L249.10,582.85 L249.75,587.36 L250.41,591.78 L251.06,595.80 L251.71,599.21 L252.36,601.92 L253.01,603.97 L253.66,605.43 L254.31,606.41 L254.96,607.04 L255.61,607.43 L256.26,607.65 L256.92,607.77 L257.57,607.84 L258.22,607.87 L258.87,607.89 L259.52,607.89 Z" fill="#d2cbe9" stroke="none"/>
<path d="M229.70,607.90 L233.48,607.89 L234.13,607.89 L234.78,607.87 L235.43,607.84 L236.08,607.77 L236.73,607.65 L237.39,607.43 L238.04,607.04 L238.69,606.41 L239.34,605.43 L239.99,603.97 L240.64,601.92 L241.29,599.21 L241.94,595.80 L242.59,591.78 L243.24,587.36 L243.90,582.85 L244.55,578.67 L245.20,575.26 L245.85,573.03 L246.50,572.25 L247.15,573.03 L247.80,575.26 L248.45,578.67 L249.10,582.85 L249.75,587.36 L250.41,591.78 L251.06,595.80 L251.71,599.21 L252.36,601.92 L253.01,603.97 L253.66,605.43 L254.31,606.41 L254.96,607.04 L255.61,607.43 L256.26,607.65 L256.92,607.77 L257.57,607.84 L258.22,607.87 L258.87,607.89 L259.52,607.89 L342.30,607.90" fill="none" stroke="#a69dcc" stroke-width="1.05"/>
<path d="M231.40,626.30 L232.56,626.30 L233.71,626.30 L234.87,626.30 L236.02,626.29 L237.18,626.27 L238.33,626.21 L239.49,626.03 L240.64,625.59 L241.80,624.62 L242.95,622.80 L244.11,619.80 L245.26,615.48 L246.42,610.07 L247.57,604.18 L248.73,598.70 L249.88,594.48 L251.04,592.02 L252.19,591.26 L253.35,591.46 L254.50,592.63 L255.66,595.06 L256.81,598.70 L257.97,603.21 L259.12,608.12 L260.28,612.88 L261.43,617.06 L262.59,620.39 L263.74,622.80 L264.90,624.39 L266.05,625.34 L267.21,625.86 L268.36,626.11 L269.52,626.23 L270.67,626.27 L271.83,626.29 L272.98,626.30 L274.13,626.30 L275.29,626.30 L276.45,626.30 L277.60,626.30 Z" fill="#eea898" stroke="none"/>
<path d="M229.70,626.30 L231.40,626.30 L232.56,626.30 L233.71,626.30 L234.87,626.30 L236.02,626.29 L237.18,626.27 L238.33,626.21 L239.49,626.03 L240.64,625.59 L241.80,624.62 L242.95,622.80 L244.11,619.80 L245.26,615.48 L246.42,610.07 L247.57,604.18 L248.73,598.70 L249.88,594.48 L251.04,592.02 L252.19,591.26 L253.35,591.46 L254.50,592.63 L255.66,595.06 L256.81,598.70 L257.97,603.21 L259.12,608.12 L260.28,612.88 L261.43,617.06 L262.59,620.39 L263.74,622.80 L264.90,624.39 L266.05,625.34 L267.21,625.86 L268.36,626.11 L269.52,626.23 L270.67,626.27 L271.83,626.29 L272.98,626.30 L274.13,626.30 L275.29,626.30 L276.45,626.30 L277.60,626.30 L342.30,626.30" fill="none" stroke="#ad1f38" stroke-width="1.05"/>
<path d="M230.02,644.79 L230.84,644.79 L231.66,644.77 L232.48,644.74 L233.30,644.68 L234.12,644.56 L234.93,644.34 L235.75,643.96 L236.57,643.34 L237.39,642.38 L238.21,640.95 L239.03,638.95 L239.85,636.29 L240.67,632.95 L241.49,629.02 L242.31,624.69 L243.12,620.28 L243.94,616.18 L244.76,612.85 L245.58,610.66 L246.40,609.90 L247.22,610.66 L248.04,612.85 L248.86,616.18 L249.68,620.28 L250.50,624.69 L251.31,629.02 L252.13,632.95 L252.95,636.29 L253.77,638.95 L254.59,640.95 L255.41,642.38 L256.23,643.34 L257.05,643.96 L257.87,644.34 L258.69,644.56 L259.50,644.68 L260.32,644.74 L261.14,644.77 L261.96,644.79 L262.78,644.79 Z" fill="#9eaccb" stroke="none"/>
<path d="M229.70,644.80 L230.02,644.79 L230.84,644.79 L231.66,644.77 L232.48,644.74 L233.30,644.68 L234.12,644.56 L234.93,644.34 L235.75,643.96 L236.57,643.34 L237.39,642.38 L238.21,640.95 L239.03,638.95 L239.85,636.29 L240.67,632.95 L241.49,629.02 L242.31,624.69 L243.12,620.28 L243.94,616.18 L244.76,612.85 L245.58,610.66 L246.40,609.90 L247.22,610.66 L248.04,612.85 L248.86,616.18 L249.68,620.28 L250.50,624.69 L251.31,629.02 L252.13,632.95 L252.95,636.29 L253.77,638.95 L254.59,640.95 L255.41,642.38 L256.23,643.34 L257.05,643.96 L257.87,644.34 L258.69,644.56 L259.50,644.68 L260.32,644.74 L261.14,644.77 L261.96,644.79 L262.78,644.79 L342.30,644.80" fill="none" stroke="#2d4a78" stroke-width="1.05"/>
<path d="M234.56,663.29 L235.23,663.29 L235.90,663.27 L236.58,663.24 L237.25,663.18 L237.92,663.06 L238.59,662.85 L239.26,662.48 L239.94,661.87 L240.61,660.93 L241.28,659.53 L241.95,657.57 L242.62,654.96 L243.30,651.69 L243.97,647.84 L244.64,643.59 L245.31,639.27 L245.98,635.26 L246.66,631.99 L247.33,629.85 L248.00,629.10 L248.67,629.85 L249.34,631.99 L250.02,635.26 L250.69,639.27 L251.36,643.59 L252.03,647.84 L252.70,651.69 L253.38,654.96 L254.05,657.57 L254.72,659.53 L255.39,660.93 L256.06,661.87 L256.74,662.48 L257.41,662.85 L258.08,663.06 L258.75,663.18 L259.42,663.24 L260.10,663.27 L260.77,663.29 L261.44,663.29 Z" fill="#fde9a8" stroke="none"/>
<path d="M229.70,663.30 L234.56,663.29 L235.23,663.29 L235.90,663.27 L236.58,663.24 L237.25,663.18 L237.92,663.06 L238.59,662.85 L239.26,662.48 L239.94,661.87 L240.61,660.93 L241.28,659.53 L241.95,657.57 L242.62,654.96 L243.30,651.69 L243.97,647.84 L244.64,643.59 L245.31,639.27 L245.98,635.26 L246.66,631.99 L247.33,629.85 L248.00,629.10 L248.67,629.85 L249.34,631.99 L250.02,635.26 L250.69,639.27 L251.36,643.59 L252.03,647.84 L252.70,651.69 L253.38,654.96 L254.05,657.57 L254.72,659.53 L255.39,660.93 L256.06,661.87 L256.74,662.48 L257.41,662.85 L258.08,663.06 L258.75,663.18 L259.42,663.24 L260.10,663.27 L260.77,663.29 L261.44,663.29 L342.30,663.30" fill="none" stroke="#f5cf55" stroke-width="1.05"/>
<path d="M232.54,680.79 L233.23,680.79 L233.93,680.77 L234.62,680.74 L235.31,680.68 L236.01,680.56 L236.70,680.35 L237.39,679.98 L238.08,679.37 L238.78,678.43 L239.47,677.03 L240.16,675.07 L240.86,672.46 L241.55,669.19 L242.24,665.34 L242.94,661.09 L243.63,656.77 L244.32,652.76 L245.01,649.49 L245.71,647.35 L246.40,646.60 L247.09,647.35 L247.79,649.49 L248.48,652.76 L249.17,656.77 L249.87,661.09 L250.56,665.34 L251.25,669.19 L251.94,672.46 L252.64,675.07 L253.33,677.03 L254.02,678.43 L254.72,679.37 L255.41,679.98 L256.10,680.35 L256.80,680.56 L257.49,680.68 L258.18,680.74 L258.87,680.77 L259.57,680.79 L260.26,680.79 Z" fill="#c2e2b8" stroke="none"/>
<path d="M229.70,680.80 L232.54,680.79 L233.23,680.79 L233.93,680.77 L234.62,680.74 L235.31,680.68 L236.01,680.56 L236.70,680.35 L237.39,679.98 L238.08,679.37 L238.78,678.43 L239.47,677.03 L240.16,675.07 L240.86,672.46 L241.55,669.19 L242.24,665.34 L242.94,661.09 L243.63,656.77 L244.32,652.76 L245.01,649.49 L245.71,647.35 L246.40,646.60 L247.09,647.35 L247.79,649.49 L248.48,652.76 L249.17,656.77 L249.87,661.09 L250.56,665.34 L251.25,669.19 L251.94,672.46 L252.64,675.07 L253.33,677.03 L254.02,678.43 L254.72,679.37 L255.41,679.98 L256.10,680.35 L256.80,680.56 L257.49,680.68 L258.18,680.74 L258.87,680.77 L259.57,680.79 L260.26,680.79 L342.30,680.80" fill="none" stroke="#4fa64a" stroke-width="1.05"/>
<text x="283.30" y="605.00" font-size="9.4" textLength="55.00" lengthAdjust="spacingAndGlyphs">No treatment</text>
<text x="309.70" y="623.40" font-size="9.4" textLength="28.60" lengthAdjust="spacingAndGlyphs">Vehicle</text>
<text x="303.90" y="641.90" font-size="9.4" textLength="34.40" lengthAdjust="spacingAndGlyphs">Itacitinib</text>
<text x="296.80" y="660.40" font-size="9.4" textLength="41.50" lengthAdjust="spacingAndGlyphs">Fedratinib</text>
<text x="295.90" y="677.90" font-size="9.4" textLength="42.40" lengthAdjust="spacingAndGlyphs">Ruxolitinib</text>
<rect x="229.70" y="568.75" width="112.60" height="112.05" fill="none" stroke="#111" stroke-width="1.4"/>
<line x1="240.50" y1="680.80" x2="240.50" y2="683.80" stroke="#111" stroke-width="1"/>
<text x="240.50" y="695.60" font-size="10.2" text-anchor="middle">0</text>
<text x="274.70" y="695.60" font-size="10.2" textLength="6.90" lengthAdjust="spacingAndGlyphs">10</text>
<text x="282.00" y="692.70" font-size="6.6">3</text>
<line x1="279.65" y1="680.80" x2="279.65" y2="683.80" stroke="#111" stroke-width="1"/>
<text x="300.00" y="695.60" font-size="10.2" textLength="7.70" lengthAdjust="spacingAndGlyphs">10</text>
<text x="308.10" y="692.70" font-size="6.6">4</text>
<line x1="305.35" y1="680.80" x2="305.35" y2="683.80" stroke="#111" stroke-width="1"/>
<text x="324.30" y="695.60" font-size="10.2" textLength="7.40" lengthAdjust="spacingAndGlyphs">10</text>
<text x="332.10" y="692.70" font-size="6.6">5</text>
<line x1="329.50" y1="680.80" x2="329.50" y2="683.80" stroke="#111" stroke-width="1"/>
<line x1="234.00" y1="680.80" x2="234.00" y2="682.60" stroke="#111" stroke-width="0.8"/>
<line x1="237.00" y1="680.80" x2="237.00" y2="682.60" stroke="#111" stroke-width="0.8"/>
<line x1="239.00" y1="680.80" x2="239.00" y2="682.60" stroke="#111" stroke-width="0.8"/>
<line x1="243.00" y1="680.80" x2="243.00" y2="682.60" stroke="#111" stroke-width="0.8"/>
<line x1="245.00" y1="680.80" x2="245.00" y2="682.60" stroke="#111" stroke-width="0.8"/>
<line x1="248.00" y1="680.80" x2="248.00" y2="682.60" stroke="#111" stroke-width="0.8"/>
<line x1="252.00" y1="680.80" x2="252.00" y2="682.60" stroke="#111" stroke-width="0.8"/>
<line x1="258.00" y1="680.80" x2="258.00" y2="682.60" stroke="#111" stroke-width="0.8"/>
<line x1="263.00" y1="680.80" x2="263.00" y2="682.60" stroke="#111" stroke-width="0.8"/>
<line x1="268.00" y1="680.80" x2="268.00" y2="682.60" stroke="#111" stroke-width="0.8"/>
<line x1="272.00" y1="680.80" x2="272.00" y2="682.60" stroke="#111" stroke-width="0.8"/>
<line x1="286.00" y1="680.80" x2="286.00" y2="682.60" stroke="#111" stroke-width="0.8"/>
<line x1="290.00" y1="680.80" x2="290.00" y2="682.60" stroke="#111" stroke-width="0.8"/>
<line x1="293.00" y1="680.80" x2="293.00" y2="682.60" stroke="#111" stroke-width="0.8"/>
<line x1="295.00" y1="680.80" x2="295.00" y2="682.60" stroke="#111" stroke-width="0.8"/>
<line x1="297.00" y1="680.80" x2="297.00" y2="682.60" stroke="#111" stroke-width="0.8"/>
<line x1="298.50" y1="680.80" x2="298.50" y2="682.60" stroke="#111" stroke-width="0.8"/>
<line x1="312.00" y1="680.80" x2="312.00" y2="682.60" stroke="#111" stroke-width="0.8"/>
<line x1="316.00" y1="680.80" x2="316.00" y2="682.60" stroke="#111" stroke-width="0.8"/>
<line x1="319.00" y1="680.80" x2="319.00" y2="682.60" stroke="#111" stroke-width="0.8"/>
<line x1="321.00" y1="680.80" x2="321.00" y2="682.60" stroke="#111" stroke-width="0.8"/>
<line x1="322.50" y1="680.80" x2="322.50" y2="682.60" stroke="#111" stroke-width="0.8"/>
<text x="272.30" y="710.80" font-size="8.7" class="c" textLength="25.40" lengthAdjust="spacingAndGlyphs">pSTAT1</text>
<line x1="410.20" y1="582.10" x2="410.20" y2="681.20" stroke="#111" stroke-width="1.3"/>
<line x1="409.60" y1="680.60" x2="505.70" y2="680.60" stroke="#111" stroke-width="1.3"/>
<line x1="406.60" y1="680.60" x2="410.20" y2="680.60" stroke="#111" stroke-width="1"/>
<line x1="406.60" y1="656.80" x2="410.20" y2="656.80" stroke="#111" stroke-width="1"/>
<line x1="406.60" y1="633.00" x2="410.20" y2="633.00" stroke="#111" stroke-width="1"/>
<line x1="406.60" y1="609.20" x2="410.20" y2="609.20" stroke="#111" stroke-width="1"/>
<line x1="406.60" y1="585.40" x2="410.20" y2="585.40" stroke="#111" stroke-width="1"/>
<text x="390.50" y="588.40" font-size="9.6" textLength="13.40" lengthAdjust="spacingAndGlyphs">2.0</text>
<text x="390.70" y="612.20" font-size="9.6" textLength="13.20" lengthAdjust="spacingAndGlyphs">1.5</text>
<text x="390.70" y="636.00" font-size="9.6" textLength="13.20" lengthAdjust="spacingAndGlyphs">1.0</text>
<text x="390.50" y="659.80" font-size="9.6" textLength="13.40" lengthAdjust="spacingAndGlyphs">0.5</text>
<text x="390.50" y="683.60" font-size="9.6" textLength="13.40" lengthAdjust="spacingAndGlyphs">0.0</text>
<line x1="422.20" y1="680.60" x2="422.20" y2="683.60" stroke="#111" stroke-width="1"/>
<line x1="440.20" y1="680.60" x2="440.20" y2="683.60" stroke="#111" stroke-width="1"/>
<line x1="458.10" y1="680.60" x2="458.10" y2="683.60" stroke="#111" stroke-width="1"/>
<line x1="476.10" y1="680.60" x2="476.10" y2="683.60" stroke="#111" stroke-width="1"/>
<line x1="494.10" y1="680.60" x2="494.10" y2="683.60" stroke="#111" stroke-width="1"/>
<text x="426.20" y="692.10" font-size="9.6" text-anchor="end" transform="rotate(-45 426.20 692.10)">No tx</text>
<text x="444.20" y="692.10" font-size="9.6" text-anchor="end" transform="rotate(-45 444.20 692.10)">Veh</text>
<text x="462.10" y="692.10" font-size="9.6" text-anchor="end" transform="rotate(-45 462.10 692.10)">Ita</text>
<text x="480.10" y="692.10" font-size="9.6" text-anchor="end" transform="rotate(-45 480.10 692.10)">Fed</text>
<text x="498.10" y="692.10" font-size="9.6" text-anchor="end" transform="rotate(-45 498.10 692.10)">Ruxo</text>
<line x1="440.20" y1="708.40" x2="494.10" y2="708.40" stroke="#555" stroke-width="1.1"/>
<text x="457.50" y="720.50" font-size="9.2" textLength="19.70" lengthAdjust="spacingAndGlyphs">IFNg</text>
<text x="384.50" y="630.90" font-size="10.3" class="c" text-anchor="middle" textLength="63.00" lengthAdjust="spacingAndGlyphs" transform="rotate(-90 384.50 630.90)">Fold change MFI</text>
<path d="M422.20,639.19V648.71M419.40,639.19h5.60M419.40,648.71h5.60" stroke="#9a92c8" stroke-width="1.0" fill="none"/>
<path d="M422.20,634.83L424.10,638.21L420.30,638.21Z" fill="#9a92c8"/>
<rect x="417.05" y="643.73" width="3.30" height="3.30" fill="#9a92c8"/>
<path d="M425.70,642.44L427.60,645.83L423.80,645.83Z" fill="#9a92c8"/>
<rect x="417.55" y="646.58" width="3.30" height="3.30" fill="#9a92c8"/>
<line x1="416.40" y1="643.95" x2="428.00" y2="643.95" stroke="#8a82bb" stroke-width="1.2"/>
<path d="M440.20,598.25V616.34M437.40,598.25h5.60M437.40,616.34h5.60" stroke="#c8102e" stroke-width="1.0" fill="none"/>
<rect x="438.55" y="597.55" width="3.30" height="3.30" fill="#c8102e"/>
<rect x="434.05" y="601.84" width="3.30" height="3.30" fill="#c8102e"/>
<rect x="443.05" y="605.17" width="3.30" height="3.30" fill="#c8102e"/>
<rect x="438.55" y="619.45" width="3.30" height="3.30" fill="#c8102e"/>
<line x1="434.40" y1="607.30" x2="446.00" y2="607.30" stroke="#3a2a2a" stroke-width="1.2"/>
<path d="M458.10,632.05V647.28M455.30,632.05h5.60M455.30,647.28h5.60" stroke="#1c4f7f" stroke-width="1.0" fill="none"/>
<path d="M458.10,630.77L460.33,633.00L458.10,635.23L455.87,633.00Z" fill="#1c4f7f"/>
<path d="M464.58,639.66L461.20,637.77L461.20,641.56Z" fill="#1c4f7f"/>
<path d="M453.60,637.68L455.50,641.07L451.70,641.07Z" fill="#1c4f7f"/>
<path d="M458.10,645.05L460.33,647.28L458.10,649.51L455.87,647.28Z" fill="#1c4f7f"/>
<line x1="452.30" y1="639.66" x2="463.90" y2="639.66" stroke="#17304f" stroke-width="1.2"/>
<path d="M476.10,630.14V634.90M473.30,630.14h5.60M473.30,634.90h5.60" stroke="#f5bb1c" stroke-width="1.0" fill="none"/>
<path d="M472.60,632.12L474.50,628.74L470.70,628.74Z" fill="#f5bb1c"/>
<path d="M479.60,632.12L481.50,628.74L477.70,628.74Z" fill="#f5bb1c"/>
<path d="M472.60,632.92L474.50,636.31L470.70,636.31Z" fill="#f5bb1c"/>
<path d="M479.60,631.50L481.50,634.88L477.70,634.88Z" fill="#f5bb1c"/>
<line x1="470.30" y1="632.52" x2="481.90" y2="632.52" stroke="#222" stroke-width="1.2"/>
<path d="M494.10,643.95V650.61M491.30,643.95h5.60M491.30,650.61h5.60" stroke="#3aa53a" stroke-width="1.0" fill="none"/>
<circle cx="498.10" cy="642.52" r="1.65" fill="#3aa53a"/>
<circle cx="490.60" cy="644.90" r="1.65" fill="#3aa53a"/>
<circle cx="497.60" cy="649.18" r="1.65" fill="#3aa53a"/>
<circle cx="490.60" cy="651.09" r="1.65" fill="#3aa53a"/>
<line x1="488.30" y1="647.28" x2="499.90" y2="647.28" stroke="#2a6a2a" stroke-width="1.2"/>
<line x1="444.40" y1="576.70" x2="495.00" y2="576.70" stroke="#6e6e6e" stroke-width="1.0"/>
<path d="M464.00,571.85L464.00,574.75M462.74,572.57L465.26,574.02M462.74,574.02L465.26,572.57" stroke="#2a2a2a" stroke-width="1.0" fill="none"/>
<path d="M467.93,571.85L467.93,574.75M466.68,572.57L469.19,574.02M466.68,574.02L469.19,572.57" stroke="#2a2a2a" stroke-width="1.0" fill="none"/>
<path d="M471.87,571.85L471.87,574.75M470.61,572.57L473.12,574.02M470.61,574.02L473.12,572.57" stroke="#2a2a2a" stroke-width="1.0" fill="none"/>
<path d="M475.80,571.85L475.80,574.75M474.54,572.57L477.06,574.02M474.54,574.02L477.06,572.57" stroke="#2a2a2a" stroke-width="1.0" fill="none"/>
<line x1="442.10" y1="585.00" x2="476.70" y2="585.00" stroke="#6e6e6e" stroke-width="1.0"/>
<path d="M455.30,580.05L455.30,582.95M454.04,580.77L456.56,582.23M454.04,582.23L456.56,580.77" stroke="#2a2a2a" stroke-width="1.0" fill="none"/>
<path d="M459.30,580.05L459.30,582.95M458.04,580.77L460.56,582.23M458.04,582.23L460.56,580.77" stroke="#2a2a2a" stroke-width="1.0" fill="none"/>
<path d="M463.30,580.05L463.30,582.95M462.04,580.77L464.56,582.23M462.04,582.23L464.56,580.77" stroke="#2a2a2a" stroke-width="1.0" fill="none"/>
<line x1="423.30" y1="594.40" x2="437.30" y2="594.40" stroke="#6e6e6e" stroke-width="1.0"/>
<path d="M424.60,589.35L424.60,592.25M423.34,590.07L425.86,591.52M423.34,591.52L425.86,590.07" stroke="#2a2a2a" stroke-width="1.0" fill="none"/>
<path d="M428.40,589.35L428.40,592.25M427.14,590.07L429.66,591.52M427.14,591.52L429.66,590.07" stroke="#2a2a2a" stroke-width="1.0" fill="none"/>
<path d="M432.20,589.35L432.20,592.25M430.94,590.07L433.46,591.52M430.94,591.52L433.46,590.07" stroke="#2a2a2a" stroke-width="1.0" fill="none"/>
<path d="M436.00,589.35L436.00,592.25M434.74,590.07L437.26,591.52M434.74,591.52L437.26,590.07" stroke="#2a2a2a" stroke-width="1.0" fill="none"/>
<line x1="441.90" y1="594.40" x2="456.00" y2="594.40" stroke="#6e6e6e" stroke-width="1.0"/>
<path d="M443.80,589.35L443.80,592.25M442.54,590.07L445.06,591.52M442.54,591.52L445.06,590.07" stroke="#2a2a2a" stroke-width="1.0" fill="none"/>
<path d="M447.73,589.35L447.73,592.25M446.48,590.07L448.99,591.52M446.48,591.52L448.99,590.07" stroke="#2a2a2a" stroke-width="1.0" fill="none"/>
<path d="M451.67,589.35L451.67,592.25M450.41,590.07L452.92,591.52M450.41,591.52L452.92,590.07" stroke="#2a2a2a" stroke-width="1.0" fill="none"/>
<path d="M455.60,589.35L455.60,592.25M454.34,590.07L456.86,591.52M454.34,591.52L456.86,590.07" stroke="#2a2a2a" stroke-width="1.0" fill="none"/>
<line x1="476.50" y1="621.90" x2="495.00" y2="621.90" stroke="#6e6e6e" stroke-width="1.0"/>
<path d="M485.80,617.05L485.80,619.95M484.54,617.77L487.06,619.23M484.54,619.23L487.06,617.77" stroke="#2a2a2a" stroke-width="1.0" fill="none"/>
<rect x="0.6" y="0.6" width="518.8" height="728.8" fill="none" stroke="#4a4a4a" stroke-width="1.2"/>
</svg></body></html>
